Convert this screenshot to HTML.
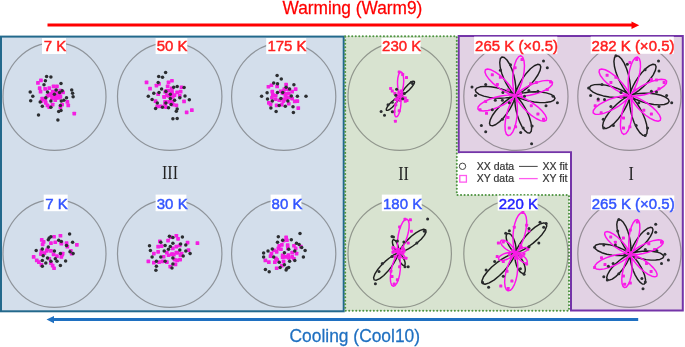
<!DOCTYPE html>
<html><head><meta charset="utf-8">
<style>
html,body{margin:0;padding:0;background:#fff;}
body{width:685px;height:347px;overflow:hidden;}
svg{display:block;will-change:transform;}
text{font-family:"Liberation Sans",sans-serif;}

</style></head><body>
<svg width="685" height="347" viewBox="0 0 685 347">
<!-- region fills -->
<rect x="1" y="36.6" width="342.7" height="274.7" fill="#d3deeb" stroke="#23698c" stroke-width="2"/>
<path d="M345.2,36.3 H456.8 V195 H569 V310.8 H345.2 Z" fill="#d8e3d0"/>
<path d="M458.7,36.1 H682.8 V310.5 H571 V152.2 H458.7 Z" fill="#e2d2e4" stroke="#7434a8" stroke-width="2"/>
<rect x="459.7" y="153.2" width="110.3" height="41" fill="#fff"/>
<path d="M345.2,36.3 H456.8 V195 H569 V310.8 H345.2 Z" fill="none" stroke="#4f9442" stroke-width="2.1" stroke-dasharray="0 3.52" stroke-linecap="round"/>

<!-- circles -->
<g fill="none" stroke="#4a4a4a" stroke-opacity="0.5" stroke-width="1.2">
<ellipse cx="54.5" cy="96.5" rx="51.5" ry="53.95"/>
<ellipse cx="169.7" cy="96.5" rx="52.2" ry="53.95"/>
<ellipse cx="283.7" cy="96.5" rx="52.1" ry="53.95"/>
<ellipse cx="399.7" cy="96.5" rx="51.7" ry="53.95"/>
<ellipse cx="515.9" cy="96.5" rx="52.1" ry="53.95"/>
<ellipse cx="629.4" cy="96.5" rx="51.6" ry="53.95"/>
<ellipse cx="54.5" cy="253.5" rx="51.5" ry="53.95"/>
<ellipse cx="169.7" cy="253.5" rx="52.2" ry="53.95"/>
<ellipse cx="283.7" cy="253.5" rx="52.1" ry="53.95"/>
<ellipse cx="399.7" cy="253.5" rx="51.7" ry="53.95"/>
<ellipse cx="515.9" cy="253.5" rx="52.1" ry="53.95"/>
<ellipse cx="629.4" cy="253.5" rx="51.6" ry="53.95"/>
</g>

<g fill="none" stroke-linejoin="round">
<path d="M400.10,96.10 L400.10,96.10 L400.10,96.10 L400.10,96.10 L400.10,96.10 L400.10,96.10 L400.10,96.10 L400.10,96.10 L400.10,96.10 L400.10,96.10 L400.10,96.10 L400.10,96.10 L400.10,96.10 L400.10,96.10 L400.10,96.10 L400.10,96.10 L400.10,96.10 L400.11,96.10 L400.13,96.09 L400.20,96.08 L400.36,96.02 L400.71,95.89 L401.36,95.59 L402.46,95.00 L404.12,93.96 L406.31,92.37 L408.86,90.19 L411.39,87.59 L413.42,84.92 L414.49,82.68 L414.34,81.35 L413.01,81.25 L410.80,82.40 L408.21,84.52 L405.70,87.14 L403.61,89.76 L402.09,92.01 L401.12,93.70 L400.57,94.82 L400.29,95.49 L400.17,95.83 L400.12,96.00 L400.10,96.06 L400.10,96.09 L400.10,96.10 L400.10,96.10 L400.10,96.10 L400.10,96.10 L400.10,96.10 L400.10,96.10 L400.10,96.10 L400.10,96.10 L400.10,96.10 L400.10,96.10 L400.10,96.10 L400.10,96.10 L400.10,96.10 L400.10,96.10 L400.10,96.10 L400.10,96.10 L400.10,96.10Z M400.10,96.10 L400.10,96.10 L400.10,96.10 L400.10,96.10 L400.10,96.10 L400.10,96.10 L400.10,96.10 L400.10,96.10 L400.10,96.10 L400.10,96.10 L400.10,96.10 L400.10,96.10 L400.10,96.10 L400.10,96.10 L400.10,96.10 L400.10,96.10 L400.10,96.10 L400.09,96.10 L400.07,96.11 L400.00,96.12 L399.85,96.17 L399.52,96.30 L398.89,96.59 L397.83,97.16 L396.24,98.15 L394.13,99.69 L391.68,101.78 L389.25,104.28 L387.30,106.84 L386.27,108.99 L386.42,110.27 L387.70,110.37 L389.81,109.27 L392.31,107.23 L394.72,104.71 L396.72,102.19 L398.18,100.03 L399.12,98.41 L399.65,97.33 L399.92,96.69 L400.04,96.36 L400.08,96.20 L400.10,96.13 L400.10,96.11 L400.10,96.10 L400.10,96.10 L400.10,96.10 L400.10,96.10 L400.10,96.10 L400.10,96.10 L400.10,96.10 L400.10,96.10 L400.10,96.10 L400.10,96.10 L400.10,96.10 L400.10,96.10 L400.10,96.10 L400.10,96.10 L400.10,96.10 L400.10,96.10 L400.10,96.10Z M515.30,95.60 L515.30,95.60 L515.30,95.60 L515.30,95.60 L515.30,95.60 L515.30,95.60 L515.30,95.60 L515.30,95.60 L515.30,95.60 L515.30,95.60 L515.30,95.60 L515.30,95.60 L515.30,95.60 L515.30,95.60 L515.31,95.59 L515.32,95.56 L515.34,95.50 L515.39,95.35 L515.47,95.04 L515.59,94.43 L515.73,93.34 L515.85,91.58 L515.86,88.94 L515.62,85.28 L514.99,80.65 L513.81,75.26 L512.01,69.58 L509.66,64.26 L506.95,60.01 L504.23,57.48 L501.88,57.07 L500.30,58.85 L499.74,62.52 L500.25,67.53 L501.71,73.17 L503.84,78.73 L506.26,83.69 L508.64,87.72 L510.72,90.73 L512.37,92.79 L513.56,94.10 L514.34,94.86 L514.82,95.26 L515.08,95.46 L515.21,95.55 L515.26,95.58 L515.29,95.59 L515.30,95.60 L515.30,95.60 L515.30,95.60 L515.30,95.60 L515.30,95.60 L515.30,95.60 L515.30,95.60 L515.30,95.60 L515.30,95.60 L515.30,95.60 L515.30,95.60 L515.30,95.60 L515.30,95.60 L515.30,95.60Z M515.30,95.60 L515.30,95.60 L515.30,95.60 L515.30,95.60 L515.30,95.60 L515.30,95.60 L515.30,95.60 L515.30,95.60 L515.30,95.60 L515.30,95.60 L515.30,95.60 L515.30,95.60 L515.30,95.60 L515.30,95.60 L515.31,95.60 L515.34,95.60 L515.40,95.58 L515.55,95.54 L515.85,95.45 L516.41,95.23 L517.37,94.78 L518.87,93.97 L521.04,92.61 L523.91,90.53 L527.37,87.61 L531.17,83.85 L534.89,79.45 L538.03,74.77 L540.11,70.36 L540.77,66.82 L539.89,64.69 L537.62,64.31 L534.32,65.75 L530.48,68.77 L526.63,72.88 L523.17,77.49 L520.37,82.04 L518.30,86.07 L516.92,89.33 L516.08,91.75 L515.63,93.40 L515.41,94.43 L515.32,95.03 L515.30,95.34 L515.29,95.50 L515.30,95.56 L515.30,95.59 L515.30,95.60 L515.30,95.60 L515.30,95.60 L515.30,95.60 L515.30,95.60 L515.30,95.60 L515.30,95.60 L515.30,95.60 L515.30,95.60 L515.30,95.60 L515.30,95.60 L515.30,95.60 L515.30,95.60 L515.30,95.60Z M515.30,95.60 L515.30,95.60 L515.30,95.60 L515.30,95.60 L515.30,95.60 L515.30,95.60 L515.30,95.60 L515.30,95.60 L515.30,95.60 L515.30,95.60 L515.30,95.60 L515.30,95.60 L515.30,95.60 L515.30,95.60 L515.31,95.61 L515.33,95.63 L515.37,95.68 L515.49,95.78 L515.74,95.97 L516.24,96.31 L517.16,96.85 L518.69,97.64 L521.06,98.66 L524.42,99.85 L528.83,101.06 L534.11,102.08 L539.89,102.65 L545.57,102.59 L550.42,101.79 L553.73,100.32 L555.00,98.38 L554.02,96.28 L550.94,94.36 L546.25,92.89 L540.64,92.04 L534.83,91.80 L529.46,92.07 L524.93,92.66 L521.43,93.37 L518.94,94.05 L517.31,94.62 L516.33,95.03 L515.79,95.30 L515.51,95.45 L515.38,95.54 L515.33,95.57 L515.31,95.59 L515.30,95.60 L515.30,95.60 L515.30,95.60 L515.30,95.60 L515.30,95.60 L515.30,95.60 L515.30,95.60 L515.30,95.60 L515.30,95.60 L515.30,95.60 L515.30,95.60 L515.30,95.60 L515.30,95.60 L515.30,95.60Z M515.30,95.60 L515.30,95.60 L515.30,95.60 L515.30,95.60 L515.30,95.60 L515.30,95.60 L515.30,95.60 L515.30,95.60 L515.30,95.60 L515.30,95.60 L515.30,95.60 L515.30,95.60 L515.30,95.60 L515.30,95.60 L515.29,95.61 L515.28,95.64 L515.26,95.70 L515.22,95.85 L515.15,96.16 L515.05,96.77 L514.95,97.84 L514.88,99.58 L514.96,102.18 L515.30,105.77 L516.07,110.31 L517.40,115.59 L519.34,121.12 L521.82,126.29 L524.62,130.39 L527.39,132.80 L529.71,133.13 L531.21,131.33 L531.65,127.69 L530.99,122.77 L529.37,117.27 L527.11,111.86 L524.57,107.05 L522.10,103.16 L519.96,100.26 L518.27,98.28 L517.06,97.02 L516.26,96.30 L515.79,95.92 L515.52,95.73 L515.39,95.65 L515.34,95.62 L515.31,95.60 L515.30,95.60 L515.30,95.60 L515.30,95.60 L515.30,95.60 L515.30,95.60 L515.30,95.60 L515.30,95.60 L515.30,95.60 L515.30,95.60 L515.30,95.60 L515.30,95.60 L515.30,95.60 L515.30,95.60 L515.30,95.60Z M515.30,95.60 L515.30,95.60 L515.30,95.60 L515.30,95.60 L515.30,95.60 L515.30,95.60 L515.30,95.60 L515.30,95.60 L515.30,95.60 L515.30,95.60 L515.30,95.60 L515.30,95.60 L515.30,95.60 L515.30,95.60 L515.29,95.60 L515.26,95.60 L515.20,95.61 L515.05,95.65 L514.76,95.74 L514.20,95.94 L513.24,96.35 L511.74,97.11 L509.57,98.40 L506.69,100.37 L503.21,103.16 L499.37,106.75 L495.60,110.99 L492.38,115.52 L490.23,119.81 L489.49,123.28 L490.30,125.40 L492.52,125.83 L495.81,124.49 L499.66,121.63 L503.56,117.68 L507.08,113.22 L509.96,108.82 L512.10,104.90 L513.54,101.73 L514.43,99.37 L514.92,97.76 L515.16,96.74 L515.26,96.16 L515.30,95.85 L515.30,95.70 L515.30,95.64 L515.30,95.61 L515.30,95.60 L515.30,95.60 L515.30,95.60 L515.30,95.60 L515.30,95.60 L515.30,95.60 L515.30,95.60 L515.30,95.60 L515.30,95.60 L515.30,95.60 L515.30,95.60 L515.30,95.60 L515.30,95.60 L515.30,95.60Z M515.30,95.60 L515.30,95.60 L515.30,95.60 L515.30,95.60 L515.30,95.60 L515.30,95.60 L515.30,95.60 L515.30,95.60 L515.30,95.60 L515.30,95.60 L515.30,95.60 L515.30,95.60 L515.30,95.60 L515.30,95.60 L515.29,95.59 L515.28,95.57 L515.23,95.52 L515.12,95.41 L514.88,95.20 L514.40,94.81 L513.51,94.20 L512.01,93.30 L509.68,92.09 L506.36,90.65 L501.99,89.11 L496.71,87.71 L490.90,86.72 L485.14,86.38 L480.18,86.84 L476.72,88.10 L475.29,89.98 L476.14,92.17 L479.13,94.34 L483.77,96.15 L489.39,97.41 L495.25,98.06 L500.72,98.17 L505.34,97.90 L508.93,97.43 L511.50,96.91 L513.19,96.45 L514.21,96.11 L514.79,95.87 L515.08,95.73 L515.21,95.66 L515.27,95.62 L515.29,95.61 L515.30,95.60 L515.30,95.60 L515.30,95.60 L515.30,95.60 L515.30,95.60 L515.30,95.60 L515.30,95.60 L515.30,95.60 L515.30,95.60 L515.30,95.60 L515.30,95.60 L515.30,95.60 L515.30,95.60 L515.30,95.60Z M629.90,95.60 L629.90,95.60 L629.90,95.60 L629.90,95.60 L629.90,95.60 L629.90,95.60 L629.90,95.60 L629.90,95.60 L629.90,95.60 L629.90,95.60 L629.90,95.60 L629.90,95.60 L629.90,95.60 L629.90,95.60 L629.91,95.59 L629.92,95.56 L629.94,95.50 L629.99,95.34 L630.08,95.02 L630.20,94.39 L630.35,93.27 L630.48,91.44 L630.50,88.71 L630.27,84.93 L629.63,80.13 L628.43,74.56 L626.59,68.68 L624.18,63.16 L621.39,58.76 L618.58,56.13 L616.16,55.70 L614.52,57.53 L613.92,61.33 L614.44,66.52 L615.93,72.35 L618.10,78.11 L620.59,83.25 L623.04,87.42 L625.18,90.54 L626.88,92.68 L628.11,94.04 L628.91,94.83 L629.40,95.25 L629.67,95.46 L629.80,95.55 L629.86,95.58 L629.89,95.59 L629.90,95.60 L629.90,95.60 L629.90,95.60 L629.90,95.60 L629.90,95.60 L629.90,95.60 L629.90,95.60 L629.90,95.60 L629.90,95.60 L629.90,95.60 L629.90,95.60 L629.90,95.60 L629.90,95.60 L629.90,95.60Z M629.90,95.60 L629.90,95.60 L629.90,95.60 L629.90,95.60 L629.90,95.60 L629.90,95.60 L629.90,95.60 L629.90,95.60 L629.90,95.60 L629.90,95.60 L629.90,95.60 L629.90,95.60 L629.90,95.60 L629.90,95.60 L629.91,95.60 L629.94,95.60 L630.00,95.58 L630.15,95.55 L630.46,95.45 L631.03,95.24 L632.01,94.80 L633.54,94.00 L635.76,92.65 L638.69,90.59 L642.24,87.68 L646.14,83.93 L649.97,79.52 L653.21,74.83 L655.37,70.39 L656.09,66.82 L655.24,64.65 L652.94,64.24 L649.58,65.65 L645.65,68.64 L641.69,72.75 L638.13,77.38 L635.23,81.94 L633.08,85.99 L631.63,89.28 L630.75,91.71 L630.26,93.38 L630.03,94.42 L629.93,95.02 L629.90,95.34 L629.90,95.49 L629.90,95.56 L629.90,95.59 L629.90,95.60 L629.90,95.60 L629.90,95.60 L629.90,95.60 L629.90,95.60 L629.90,95.60 L629.90,95.60 L629.90,95.60 L629.90,95.60 L629.90,95.60 L629.90,95.60 L629.90,95.60 L629.90,95.60 L629.90,95.60Z M629.90,95.60 L629.90,95.60 L629.90,95.60 L629.90,95.60 L629.90,95.60 L629.90,95.60 L629.90,95.60 L629.90,95.60 L629.90,95.60 L629.90,95.60 L629.90,95.60 L629.90,95.60 L629.90,95.60 L629.90,95.60 L629.91,95.61 L629.92,95.63 L629.97,95.68 L630.07,95.79 L630.31,96.00 L630.78,96.38 L631.65,96.99 L633.12,97.89 L635.39,99.09 L638.65,100.53 L642.93,102.07 L648.11,103.48 L653.82,104.50 L659.47,104.87 L664.35,104.45 L667.76,103.23 L669.17,101.40 L668.35,99.24 L665.44,97.09 L660.89,95.28 L655.37,94.00 L649.61,93.32 L644.25,93.17 L639.70,93.41 L636.17,93.85 L633.64,94.34 L631.98,94.78 L630.97,95.11 L630.41,95.33 L630.12,95.47 L629.99,95.54 L629.93,95.58 L629.91,95.59 L629.90,95.60 L629.90,95.60 L629.90,95.60 L629.90,95.60 L629.90,95.60 L629.90,95.60 L629.90,95.60 L629.90,95.60 L629.90,95.60 L629.90,95.60 L629.90,95.60 L629.90,95.60 L629.90,95.60 L629.90,95.60Z M629.90,95.60 L629.90,95.60 L629.90,95.60 L629.90,95.60 L629.90,95.60 L629.90,95.60 L629.90,95.60 L629.90,95.60 L629.90,95.60 L629.90,95.60 L629.90,95.60 L629.90,95.60 L629.90,95.60 L629.90,95.60 L629.89,95.61 L629.88,95.64 L629.86,95.71 L629.81,95.86 L629.74,96.20 L629.64,96.84 L629.52,97.98 L629.46,99.83 L629.53,102.61 L629.90,106.43 L630.72,111.27 L632.14,116.88 L634.20,122.77 L636.85,128.28 L639.82,132.64 L642.77,135.20 L645.24,135.56 L646.84,133.64 L647.31,129.77 L646.60,124.53 L644.88,118.67 L642.48,112.91 L639.77,107.79 L637.14,103.65 L634.86,100.56 L633.06,98.45 L631.77,97.12 L630.93,96.35 L630.42,95.94 L630.14,95.74 L630.00,95.65 L629.94,95.62 L629.91,95.60 L629.90,95.60 L629.90,95.60 L629.90,95.60 L629.90,95.60 L629.90,95.60 L629.90,95.60 L629.90,95.60 L629.90,95.60 L629.90,95.60 L629.90,95.60 L629.90,95.60 L629.90,95.60 L629.90,95.60 L629.90,95.60Z M629.90,95.60 L629.90,95.60 L629.90,95.60 L629.90,95.60 L629.90,95.60 L629.90,95.60 L629.90,95.60 L629.90,95.60 L629.90,95.60 L629.90,95.60 L629.90,95.60 L629.90,95.60 L629.90,95.60 L629.90,95.60 L629.89,95.60 L629.86,95.60 L629.79,95.62 L629.64,95.66 L629.32,95.76 L628.72,95.98 L627.70,96.45 L626.09,97.29 L623.78,98.72 L620.72,100.90 L617.02,103.96 L612.95,107.91 L608.97,112.55 L605.60,117.48 L603.35,122.15 L602.62,125.90 L603.53,128.16 L605.94,128.58 L609.45,127.08 L613.55,123.92 L617.67,119.60 L621.38,114.73 L624.40,109.94 L626.62,105.68 L628.12,102.23 L629.03,99.68 L629.53,97.93 L629.77,96.83 L629.87,96.20 L629.90,95.87 L629.91,95.71 L629.90,95.64 L629.90,95.61 L629.90,95.60 L629.90,95.60 L629.90,95.60 L629.90,95.60 L629.90,95.60 L629.90,95.60 L629.90,95.60 L629.90,95.60 L629.90,95.60 L629.90,95.60 L629.90,95.60 L629.90,95.60 L629.90,95.60 L629.90,95.60Z M629.90,95.60 L629.90,95.60 L629.90,95.60 L629.90,95.60 L629.90,95.60 L629.90,95.60 L629.90,95.60 L629.90,95.60 L629.90,95.60 L629.90,95.60 L629.90,95.60 L629.90,95.60 L629.90,95.60 L629.90,95.60 L629.89,95.59 L629.88,95.57 L629.83,95.51 L629.73,95.39 L629.50,95.16 L629.02,94.75 L628.15,94.07 L626.68,93.05 L624.38,91.69 L621.07,90.02 L616.70,88.19 L611.39,86.45 L605.52,85.10 L599.67,84.42 L594.57,84.60 L590.96,85.67 L589.40,87.51 L590.14,89.80 L593.06,92.18 L597.69,94.31 L603.35,95.92 L609.30,96.93 L614.87,97.37 L619.60,97.36 L623.30,97.09 L625.95,96.71 L627.70,96.35 L628.76,96.05 L629.36,95.85 L629.66,95.72 L629.81,95.66 L629.87,95.62 L629.89,95.61 L629.90,95.60 L629.90,95.60 L629.90,95.60 L629.90,95.60 L629.90,95.60 L629.90,95.60 L629.90,95.60 L629.90,95.60 L629.90,95.60 L629.90,95.60 L629.90,95.60 L629.90,95.60 L629.90,95.60 L629.90,95.60Z M398.50,252.80 L398.50,252.80 L398.50,252.80 L398.50,252.80 L398.50,252.80 L398.50,252.80 L398.50,252.80 L398.50,252.80 L398.50,252.80 L398.50,252.80 L398.50,252.80 L398.50,252.80 L398.50,252.80 L398.50,252.80 L398.50,252.80 L398.51,252.80 L398.53,252.80 L398.58,252.80 L398.72,252.78 L399.02,252.74 L399.61,252.60 L400.67,252.30 L402.41,251.68 L404.97,250.57 L408.40,248.80 L412.54,246.25 L417.00,242.97 L421.17,239.18 L424.37,235.35 L426.01,232.07 L425.77,229.92 L423.69,229.31 L420.18,230.35 L415.85,232.84 L411.40,236.29 L407.39,240.11 L404.16,243.75 L401.82,246.82 L400.28,249.15 L399.37,250.75 L398.89,251.74 L398.65,252.30 L398.55,252.59 L398.52,252.72 L398.50,252.77 L398.50,252.79 L398.50,252.80 L398.50,252.80 L398.50,252.80 L398.50,252.80 L398.50,252.80 L398.50,252.80 L398.50,252.80 L398.50,252.80 L398.50,252.80 L398.50,252.80 L398.50,252.80 L398.50,252.80 L398.50,252.80 L398.50,252.80 L398.50,252.80Z M398.50,252.80 L398.50,252.80 L398.50,252.80 L398.50,252.80 L398.50,252.80 L398.50,252.80 L398.50,252.80 L398.50,252.80 L398.50,252.80 L398.50,252.80 L398.50,252.80 L398.50,252.80 L398.50,252.80 L398.50,252.80 L398.50,252.80 L398.49,252.80 L398.47,252.80 L398.42,252.81 L398.28,252.85 L397.98,252.94 L397.40,253.16 L396.37,253.62 L394.70,254.49 L392.27,255.98 L389.05,258.26 L385.22,261.43 L381.17,265.39 L377.49,269.82 L374.79,274.15 L373.59,277.71 L374.14,279.85 L376.33,280.17 L379.75,278.61 L383.77,275.48 L387.79,271.35 L391.31,266.91 L394.06,262.77 L395.99,259.33 L397.22,256.75 L397.91,255.00 L398.26,253.93 L398.42,253.33 L398.48,253.02 L398.50,252.89 L398.50,252.83 L398.50,252.81 L398.50,252.80 L398.50,252.80 L398.50,252.80 L398.50,252.80 L398.50,252.80 L398.50,252.80 L398.50,252.80 L398.50,252.80 L398.50,252.80 L398.50,252.80 L398.50,252.80 L398.50,252.80 L398.50,252.80 L398.50,252.80 L398.50,252.80Z M398.50,252.80 L398.50,252.80 L398.50,252.80 L398.50,252.80 L398.50,252.80 L398.50,252.80 L398.50,252.80 L398.50,252.80 L398.50,252.80 L398.50,252.80 L398.50,252.80 L398.50,252.80 L398.50,252.79 L398.51,252.78 L398.52,252.75 L398.54,252.70 L398.58,252.59 L398.62,252.41 L398.67,252.10 L398.73,251.63 L398.76,250.95 L398.74,250.03 L398.64,248.85 L398.41,247.45 L398.02,245.88 L397.45,244.25 L396.72,242.68 L395.85,241.33 L394.93,240.34 L394.03,239.81 L393.26,239.82 L392.70,240.35 L392.41,241.35 L392.44,242.71 L392.75,244.28 L393.31,245.92 L394.04,247.49 L394.85,248.89 L395.66,250.06 L396.40,250.97 L397.03,251.65 L397.52,252.12 L397.89,252.42 L398.14,252.60 L398.30,252.70 L398.40,252.76 L398.45,252.78 L398.48,252.79 L398.49,252.80 L398.50,252.80 L398.50,252.80 L398.50,252.80 L398.50,252.80 L398.50,252.80 L398.50,252.80 L398.50,252.80 L398.50,252.80 L398.50,252.80 L398.50,252.80 L398.50,252.80 L398.50,252.80Z M398.50,252.80 L398.50,252.80 L398.50,252.80 L398.50,252.80 L398.50,252.80 L398.50,252.80 L398.50,252.80 L398.50,252.80 L398.50,252.80 L398.50,252.80 L398.50,252.80 L398.50,252.80 L398.50,252.81 L398.49,252.82 L398.48,252.85 L398.46,252.90 L398.44,253.01 L398.40,253.20 L398.36,253.51 L398.33,253.98 L398.34,254.66 L398.40,255.58 L398.57,256.75 L398.87,258.14 L399.35,259.68 L400.00,261.29 L400.81,262.81 L401.74,264.11 L402.72,265.06 L403.64,265.53 L404.42,265.49 L404.95,264.93 L405.18,263.91 L405.08,262.56 L404.68,261.01 L404.04,259.40 L403.23,257.87 L402.35,256.52 L401.48,255.39 L400.69,254.51 L400.03,253.87 L399.51,253.43 L399.13,253.15 L398.87,252.98 L398.70,252.89 L398.60,252.84 L398.55,252.81 L398.52,252.81 L398.51,252.80 L398.50,252.80 L398.50,252.80 L398.50,252.80 L398.50,252.80 L398.50,252.80 L398.50,252.80 L398.50,252.80 L398.50,252.80 L398.50,252.80 L398.50,252.80 L398.50,252.80 L398.50,252.80Z M515.50,252.90 L515.50,252.90 L515.50,252.90 L515.50,252.90 L515.50,252.90 L515.50,252.90 L515.50,252.90 L515.50,252.90 L515.50,252.90 L515.50,252.90 L515.50,252.90 L515.50,252.90 L515.50,252.90 L515.50,252.90 L515.51,252.90 L515.52,252.90 L515.56,252.90 L515.67,252.89 L515.90,252.85 L516.37,252.73 L517.24,252.47 L518.71,251.93 L520.97,250.93 L524.14,249.27 L528.19,246.77 L532.87,243.35 L537.72,239.13 L542.07,234.43 L545.26,229.82 L546.72,225.95 L546.17,223.48 L543.73,222.84 L539.81,224.13 L535.07,227.12 L530.19,231.28 L525.77,235.94 L522.16,240.48 L519.49,244.42 L517.70,247.52 L516.60,249.73 L516.00,251.18 L515.70,252.04 L515.57,252.51 L515.52,252.74 L515.50,252.84 L515.50,252.88 L515.50,252.89 L515.50,252.90 L515.50,252.90 L515.50,252.90 L515.50,252.90 L515.50,252.90 L515.50,252.90 L515.50,252.90 L515.50,252.90 L515.50,252.90 L515.50,252.90 L515.50,252.90 L515.50,252.90 L515.50,252.90 L515.50,252.90Z M515.50,252.90 L515.50,252.90 L515.50,252.90 L515.50,252.90 L515.50,252.90 L515.50,252.90 L515.50,252.90 L515.50,252.90 L515.50,252.90 L515.50,252.90 L515.50,252.90 L515.50,252.90 L515.50,252.90 L515.50,252.90 L515.49,252.90 L515.48,252.90 L515.43,252.90 L515.32,252.91 L515.08,252.95 L514.58,253.06 L513.65,253.32 L512.08,253.87 L509.67,254.88 L506.29,256.58 L501.96,259.16 L496.93,262.69 L491.73,267.07 L487.03,271.96 L483.57,276.79 L481.95,280.85 L482.48,283.47 L485.06,284.20 L489.23,282.90 L494.31,279.83 L499.55,275.52 L504.32,270.66 L508.22,265.92 L511.12,261.80 L513.08,258.56 L514.27,256.23 L514.94,254.72 L515.27,253.81 L515.42,253.32 L515.47,253.07 L515.49,252.97 L515.50,252.92 L515.50,252.91 L515.50,252.90 L515.50,252.90 L515.50,252.90 L515.50,252.90 L515.50,252.90 L515.50,252.90 L515.50,252.90 L515.50,252.90 L515.50,252.90 L515.50,252.90 L515.50,252.90 L515.50,252.90 L515.50,252.90 L515.50,252.90Z M515.50,252.90 L515.50,252.90 L515.50,252.90 L515.50,252.90 L515.50,252.90 L515.50,252.90 L515.50,252.90 L515.50,252.90 L515.50,252.90 L515.50,252.90 L515.50,252.90 L515.51,252.89 L515.52,252.87 L515.54,252.83 L515.57,252.75 L515.63,252.60 L515.70,252.34 L515.80,251.93 L515.90,251.30 L515.99,250.40 L516.02,249.20 L515.96,247.66 L515.75,245.81 L515.34,243.70 L514.70,241.43 L513.81,239.15 L512.70,237.04 L511.43,235.26 L510.08,234.00 L508.77,233.37 L507.63,233.43 L506.77,234.18 L506.27,235.54 L506.18,237.39 L506.49,239.54 L507.16,241.84 L508.11,244.09 L509.22,246.17 L510.40,247.97 L511.53,249.45 L512.55,250.60 L513.42,251.44 L514.10,252.03 L514.61,252.41 L514.96,252.64 L515.20,252.77 L515.34,252.84 L515.42,252.88 L515.47,252.89 L515.49,252.90 L515.49,252.90 L515.50,252.90 L515.50,252.90 L515.50,252.90 L515.50,252.90 L515.50,252.90 L515.50,252.90 L515.50,252.90 L515.50,252.90 L515.50,252.90 L515.50,252.90Z M515.50,252.90 L515.50,252.90 L515.50,252.90 L515.50,252.90 L515.50,252.90 L515.50,252.90 L515.50,252.90 L515.50,252.90 L515.50,252.90 L515.50,252.90 L515.50,252.90 L515.49,252.91 L515.48,252.93 L515.46,252.97 L515.42,253.06 L515.37,253.22 L515.29,253.49 L515.19,253.92 L515.08,254.58 L514.99,255.51 L514.96,256.78 L515.02,258.39 L515.24,260.33 L515.67,262.54 L516.34,264.92 L517.27,267.30 L518.43,269.52 L519.77,271.38 L521.18,272.70 L522.55,273.36 L523.74,273.30 L524.65,272.51 L525.17,271.09 L525.27,269.15 L524.94,266.89 L524.23,264.49 L523.24,262.13 L522.08,259.95 L520.85,258.06 L519.66,256.51 L518.59,255.31 L517.68,254.43 L516.97,253.82 L516.43,253.42 L516.06,253.17 L515.82,253.03 L515.67,252.96 L515.58,252.92 L515.54,252.91 L515.51,252.90 L515.51,252.90 L515.50,252.90 L515.50,252.90 L515.50,252.90 L515.50,252.90 L515.50,252.90 L515.50,252.90 L515.50,252.90 L515.50,252.90 L515.50,252.90 L515.50,252.90Z M630.30,254.20 L630.30,254.20 L630.30,254.20 L630.30,254.20 L630.30,254.20 L630.30,254.20 L630.30,254.20 L630.30,254.20 L630.30,254.20 L630.30,254.20 L630.30,254.20 L630.30,254.20 L630.30,254.20 L630.30,254.20 L630.31,254.19 L630.32,254.17 L630.34,254.11 L630.38,253.98 L630.46,253.70 L630.57,253.15 L630.71,252.19 L630.84,250.61 L630.88,248.25 L630.72,244.98 L630.21,240.82 L629.22,235.99 L627.68,230.88 L625.65,226.09 L623.28,222.26 L620.87,219.96 L618.78,219.57 L617.34,221.14 L616.79,224.42 L617.19,228.91 L618.43,233.96 L620.26,238.97 L622.36,243.43 L624.44,247.07 L626.27,249.78 L627.72,251.65 L628.76,252.84 L629.45,253.53 L629.87,253.89 L630.10,254.07 L630.22,254.15 L630.27,254.18 L630.29,254.20 L630.30,254.20 L630.30,254.20 L630.30,254.20 L630.30,254.20 L630.30,254.20 L630.30,254.20 L630.30,254.20 L630.30,254.20 L630.30,254.20 L630.30,254.20 L630.30,254.20 L630.30,254.20 L630.30,254.20 L630.30,254.20Z M630.30,254.20 L630.30,254.20 L630.30,254.20 L630.30,254.20 L630.30,254.20 L630.30,254.20 L630.30,254.20 L630.30,254.20 L630.30,254.20 L630.30,254.20 L630.30,254.20 L630.30,254.20 L630.30,254.20 L630.30,254.20 L630.31,254.20 L630.33,254.20 L630.39,254.19 L630.52,254.16 L630.78,254.08 L631.27,253.90 L632.12,253.52 L633.44,252.84 L635.35,251.69 L637.88,249.93 L640.95,247.44 L644.32,244.24 L647.63,240.46 L650.44,236.44 L652.32,232.64 L652.95,229.56 L652.23,227.69 L650.26,227.33 L647.36,228.53 L643.97,231.09 L640.54,234.60 L637.46,238.56 L634.94,242.48 L633.08,245.95 L631.82,248.77 L631.05,250.86 L630.62,252.29 L630.42,253.19 L630.33,253.70 L630.30,253.98 L630.30,254.11 L630.30,254.17 L630.30,254.19 L630.30,254.20 L630.30,254.20 L630.30,254.20 L630.30,254.20 L630.30,254.20 L630.30,254.20 L630.30,254.20 L630.30,254.20 L630.30,254.20 L630.30,254.20 L630.30,254.20 L630.30,254.20 L630.30,254.20 L630.30,254.20Z M630.30,254.20 L630.30,254.20 L630.30,254.20 L630.30,254.20 L630.30,254.20 L630.30,254.20 L630.30,254.20 L630.30,254.20 L630.30,254.20 L630.30,254.20 L630.30,254.20 L630.30,254.20 L630.30,254.20 L630.30,254.20 L630.31,254.21 L630.32,254.22 L630.36,254.26 L630.46,254.35 L630.67,254.51 L631.09,254.80 L631.86,255.25 L633.16,255.92 L635.15,256.78 L637.98,257.78 L641.69,258.80 L646.13,259.65 L651.00,260.14 L655.78,260.08 L659.86,259.41 L662.65,258.17 L663.72,256.54 L662.89,254.77 L660.30,253.15 L656.35,251.92 L651.62,251.20 L646.74,251.00 L642.21,251.23 L638.40,251.72 L635.46,252.32 L633.37,252.90 L632.00,253.37 L631.17,253.72 L630.71,253.94 L630.48,254.08 L630.37,254.15 L630.32,254.18 L630.31,254.19 L630.30,254.20 L630.30,254.20 L630.30,254.20 L630.30,254.20 L630.30,254.20 L630.30,254.20 L630.30,254.20 L630.30,254.20 L630.30,254.20 L630.30,254.20 L630.30,254.20 L630.30,254.20 L630.30,254.20 L630.30,254.20Z M630.30,254.20 L630.30,254.20 L630.30,254.20 L630.30,254.20 L630.30,254.20 L630.30,254.20 L630.30,254.20 L630.30,254.20 L630.30,254.20 L630.30,254.20 L630.30,254.20 L630.30,254.20 L630.30,254.20 L630.30,254.20 L630.30,254.21 L630.29,254.23 L630.27,254.28 L630.25,254.41 L630.21,254.67 L630.16,255.17 L630.14,256.05 L630.19,257.48 L630.39,259.61 L630.88,262.53 L631.77,266.21 L633.16,270.45 L635.07,274.87 L637.40,278.96 L639.93,282.16 L642.33,283.97 L644.25,284.11 L645.37,282.55 L645.53,279.54 L644.70,275.55 L643.07,271.14 L640.90,266.84 L638.55,263.05 L636.30,260.00 L634.38,257.75 L632.89,256.22 L631.82,255.27 L631.13,254.72 L630.72,254.43 L630.49,254.29 L630.38,254.23 L630.33,254.21 L630.31,254.20 L630.30,254.20 L630.30,254.20 L630.30,254.20 L630.30,254.20 L630.30,254.20 L630.30,254.20 L630.30,254.20 L630.30,254.20 L630.30,254.20 L630.30,254.20 L630.30,254.20 L630.30,254.20 L630.30,254.20 L630.30,254.20Z M630.30,254.20 L630.30,254.20 L630.30,254.20 L630.30,254.20 L630.30,254.20 L630.30,254.20 L630.30,254.20 L630.30,254.20 L630.30,254.20 L630.30,254.20 L630.30,254.20 L630.30,254.20 L630.30,254.20 L630.30,254.20 L630.29,254.20 L630.27,254.20 L630.21,254.21 L630.08,254.23 L629.82,254.30 L629.32,254.46 L628.46,254.80 L627.12,255.42 L625.16,256.49 L622.57,258.14 L619.41,260.49 L615.92,263.54 L612.46,267.16 L609.49,271.05 L607.46,274.76 L606.70,277.80 L607.35,279.69 L609.30,280.13 L612.24,279.06 L615.72,276.65 L619.28,273.29 L622.52,269.48 L625.19,265.69 L627.19,262.30 L628.56,259.55 L629.42,257.50 L629.90,256.09 L630.14,255.20 L630.25,254.69 L630.29,254.42 L630.30,254.29 L630.30,254.23 L630.30,254.21 L630.30,254.20 L630.30,254.20 L630.30,254.20 L630.30,254.20 L630.30,254.20 L630.30,254.20 L630.30,254.20 L630.30,254.20 L630.30,254.20 L630.30,254.20 L630.30,254.20 L630.30,254.20 L630.30,254.20 L630.30,254.20Z M630.30,254.20 L630.30,254.20 L630.30,254.20 L630.30,254.20 L630.30,254.20 L630.30,254.20 L630.30,254.20 L630.30,254.20 L630.30,254.20 L630.30,254.20 L630.30,254.20 L630.30,254.20 L630.30,254.20 L630.30,254.20 L630.29,254.19 L630.28,254.17 L630.24,254.12 L630.15,254.02 L629.95,253.81 L629.54,253.44 L628.77,252.82 L627.48,251.92 L625.46,250.68 L622.56,249.17 L618.71,247.51 L614.04,245.92 L608.87,244.66 L603.70,243.99 L599.20,244.09 L596.00,245.01 L594.60,246.61 L595.22,248.64 L597.78,250.78 L601.85,252.71 L606.84,254.20 L612.08,255.15 L616.99,255.60 L621.18,255.64 L624.45,255.44 L626.79,255.14 L628.35,254.84 L629.29,254.59 L629.82,254.41 L630.09,254.31 L630.22,254.25 L630.27,254.22 L630.29,254.21 L630.30,254.20 L630.30,254.20 L630.30,254.20 L630.30,254.20 L630.30,254.20 L630.30,254.20 L630.30,254.20 L630.30,254.20 L630.30,254.20 L630.30,254.20 L630.30,254.20 L630.30,254.20 L630.30,254.20 L630.30,254.20Z" stroke="#1e1e1e" stroke-width="1.45"/>
<path d="M400.10,96.10 L400.10,96.10 L400.10,96.10 L400.10,96.10 L400.10,96.10 L400.10,96.10 L400.10,96.10 L400.10,96.10 L400.10,96.10 L400.10,96.10 L400.10,96.10 L400.10,96.10 L400.10,96.10 L400.10,96.10 L400.10,96.10 L400.11,96.09 L400.12,96.07 L400.16,96.03 L400.24,95.92 L400.39,95.69 L400.64,95.23 L401.03,94.43 L401.55,93.12 L402.18,91.19 L402.84,88.56 L403.40,85.31 L403.70,81.66 L403.62,78.01 L403.08,74.86 L402.15,72.71 L400.94,71.91 L399.69,72.62 L398.60,74.71 L397.85,77.81 L397.52,81.44 L397.56,85.10 L397.89,88.39 L398.36,91.06 L398.86,93.03 L399.29,94.37 L399.62,95.20 L399.84,95.67 L399.97,95.91 L400.04,96.02 L400.08,96.07 L400.09,96.09 L400.10,96.10 L400.10,96.10 L400.10,96.10 L400.10,96.10 L400.10,96.10 L400.10,96.10 L400.10,96.10 L400.10,96.10 L400.10,96.10 L400.10,96.10 L400.10,96.10 L400.10,96.10 L400.10,96.10 L400.10,96.10 L400.10,96.10Z M400.10,96.10 L400.10,96.10 L400.10,96.10 L400.10,96.10 L400.10,96.10 L400.10,96.10 L400.10,96.10 L400.10,96.10 L400.10,96.10 L400.10,96.10 L400.10,96.10 L400.10,96.10 L400.10,96.10 L400.10,96.10 L400.10,96.10 L400.09,96.11 L400.08,96.12 L400.04,96.15 L399.95,96.24 L399.79,96.42 L399.51,96.78 L399.07,97.42 L398.44,98.48 L397.62,100.06 L396.69,102.25 L395.77,104.99 L395.01,108.10 L394.58,111.27 L394.61,114.07 L395.12,116.06 L396.05,116.91 L397.24,116.47 L398.46,114.82 L399.54,112.23 L400.33,109.14 L400.79,105.96 L400.96,103.08 L400.91,100.70 L400.75,98.93 L400.56,97.71 L400.39,96.95 L400.27,96.51 L400.18,96.28 L400.14,96.17 L400.12,96.13 L400.11,96.11 L400.10,96.10 L400.10,96.10 L400.10,96.10 L400.10,96.10 L400.10,96.10 L400.10,96.10 L400.10,96.10 L400.10,96.10 L400.10,96.10 L400.10,96.10 L400.10,96.10 L400.10,96.10 L400.10,96.10 L400.10,96.10 L400.10,96.10Z M515.30,95.60 L515.30,95.60 L515.30,95.60 L515.30,95.60 L515.30,95.60 L515.30,95.60 L515.30,95.60 L515.30,95.60 L515.30,95.60 L515.30,95.60 L515.30,95.60 L515.30,95.60 L515.30,95.60 L515.30,95.60 L515.31,95.59 L515.33,95.58 L515.38,95.53 L515.49,95.42 L515.70,95.18 L516.08,94.70 L516.69,93.82 L517.59,92.33 L518.79,90.01 L520.23,86.71 L521.76,82.36 L523.15,77.10 L524.14,71.32 L524.47,65.59 L524.01,60.65 L522.76,57.21 L520.89,55.79 L518.71,56.64 L516.56,59.60 L514.75,64.23 L513.50,69.82 L512.85,75.65 L512.74,81.09 L513.01,85.69 L513.48,89.27 L514.00,91.82 L514.45,93.50 L514.80,94.52 L515.03,95.09 L515.17,95.38 L515.24,95.51 L515.28,95.57 L515.29,95.59 L515.30,95.60 L515.30,95.60 L515.30,95.60 L515.30,95.60 L515.30,95.60 L515.30,95.60 L515.30,95.60 L515.30,95.60 L515.30,95.60 L515.30,95.60 L515.30,95.60 L515.30,95.60 L515.30,95.60 L515.30,95.60Z M515.30,95.60 L515.30,95.60 L515.30,95.60 L515.30,95.60 L515.30,95.60 L515.30,95.60 L515.30,95.60 L515.30,95.60 L515.30,95.60 L515.30,95.60 L515.30,95.60 L515.30,95.60 L515.30,95.60 L515.30,95.60 L515.31,95.61 L515.33,95.62 L515.40,95.64 L515.54,95.69 L515.85,95.76 L516.44,95.87 L517.49,96.01 L519.19,96.11 L521.75,96.11 L525.29,95.86 L529.77,95.22 L534.98,94.05 L540.47,92.29 L545.62,89.98 L549.71,87.34 L552.15,84.68 L552.53,82.41 L550.81,80.89 L547.24,80.36 L542.40,80.89 L536.95,82.33 L531.57,84.42 L526.79,86.79 L522.90,89.11 L520.00,91.14 L518.00,92.75 L516.74,93.91 L516.01,94.67 L515.62,95.13 L515.43,95.38 L515.35,95.51 L515.32,95.57 L515.30,95.59 L515.30,95.60 L515.30,95.60 L515.30,95.60 L515.30,95.60 L515.30,95.60 L515.30,95.60 L515.30,95.60 L515.30,95.60 L515.30,95.60 L515.30,95.60 L515.30,95.60 L515.30,95.60 L515.30,95.60 L515.30,95.60Z M515.30,95.60 L515.30,95.60 L515.30,95.60 L515.30,95.60 L515.30,95.60 L515.30,95.60 L515.30,95.60 L515.30,95.60 L515.30,95.60 L515.30,95.60 L515.30,95.60 L515.30,95.60 L515.30,95.60 L515.30,95.60 L515.30,95.61 L515.30,95.64 L515.32,95.70 L515.35,95.85 L515.45,96.15 L515.67,96.71 L516.11,97.68 L516.91,99.19 L518.27,101.37 L520.34,104.26 L523.25,107.75 L526.99,111.57 L531.39,115.33 L536.06,118.50 L540.48,120.60 L544.02,121.28 L546.16,120.41 L546.55,118.14 L545.12,114.82 L542.12,110.96 L538.02,107.08 L533.41,103.59 L528.87,100.75 L524.84,98.66 L521.58,97.26 L519.16,96.41 L517.50,95.94 L516.47,95.72 L515.87,95.63 L515.56,95.60 L515.40,95.59 L515.34,95.60 L515.31,95.60 L515.30,95.60 L515.30,95.60 L515.30,95.60 L515.30,95.60 L515.30,95.60 L515.30,95.60 L515.30,95.60 L515.30,95.60 L515.30,95.60 L515.30,95.60 L515.30,95.60 L515.30,95.60 L515.30,95.60 L515.30,95.60Z M515.30,95.60 L515.30,95.60 L515.30,95.60 L515.30,95.60 L515.30,95.60 L515.30,95.60 L515.30,95.60 L515.30,95.60 L515.30,95.60 L515.30,95.60 L515.30,95.60 L515.30,95.60 L515.30,95.60 L515.30,95.60 L515.29,95.61 L515.27,95.62 L515.22,95.67 L515.10,95.77 L514.88,96.01 L514.48,96.48 L513.83,97.36 L512.86,98.83 L511.57,101.13 L510.00,104.42 L508.30,108.77 L506.70,114.04 L505.50,119.86 L504.96,125.64 L505.25,130.65 L506.39,134.18 L508.23,135.68 L510.47,134.90 L512.76,131.98 L514.75,127.36 L516.21,121.75 L517.07,115.87 L517.38,110.37 L517.26,105.71 L516.91,102.07 L516.48,99.47 L516.08,97.75 L515.77,96.71 L515.56,96.13 L515.43,95.83 L515.36,95.69 L515.32,95.63 L515.31,95.61 L515.30,95.60 L515.30,95.60 L515.30,95.60 L515.30,95.60 L515.30,95.60 L515.30,95.60 L515.30,95.60 L515.30,95.60 L515.30,95.60 L515.30,95.60 L515.30,95.60 L515.30,95.60 L515.30,95.60 L515.30,95.60Z M515.30,95.60 L515.30,95.60 L515.30,95.60 L515.30,95.60 L515.30,95.60 L515.30,95.60 L515.30,95.60 L515.30,95.60 L515.30,95.60 L515.30,95.60 L515.30,95.60 L515.30,95.60 L515.30,95.60 L515.30,95.60 L515.29,95.59 L515.26,95.58 L515.20,95.56 L515.06,95.52 L514.75,95.44 L514.15,95.33 L513.09,95.20 L511.37,95.10 L508.79,95.11 L505.24,95.37 L500.72,96.03 L495.47,97.23 L489.95,99.03 L484.77,101.37 L480.66,104.05 L478.21,106.73 L477.83,109.02 L479.58,110.54 L483.17,111.06 L488.05,110.52 L493.53,109.04 L498.94,106.93 L503.76,104.52 L507.67,102.16 L510.58,100.11 L512.59,98.48 L513.85,97.31 L514.59,96.54 L514.98,96.07 L515.17,95.82 L515.25,95.69 L515.28,95.64 L515.30,95.61 L515.30,95.60 L515.30,95.60 L515.30,95.60 L515.30,95.60 L515.30,95.60 L515.30,95.60 L515.30,95.60 L515.30,95.60 L515.30,95.60 L515.30,95.60 L515.30,95.60 L515.30,95.60 L515.30,95.60 L515.30,95.60Z M515.30,95.60 L515.30,95.60 L515.30,95.60 L515.30,95.60 L515.30,95.60 L515.30,95.60 L515.30,95.60 L515.30,95.60 L515.30,95.60 L515.30,95.60 L515.30,95.60 L515.30,95.60 L515.30,95.60 L515.30,95.60 L515.30,95.59 L515.30,95.56 L515.29,95.50 L515.25,95.35 L515.17,95.05 L514.97,94.48 L514.57,93.50 L513.82,91.96 L512.54,89.74 L510.58,86.79 L507.80,83.22 L504.20,79.27 L499.95,75.38 L495.40,72.05 L491.07,69.80 L487.56,69.00 L485.40,69.79 L484.93,72.05 L486.24,75.40 L489.10,79.35 L493.05,83.37 L497.52,87.01 L501.95,89.99 L505.90,92.22 L509.10,93.73 L511.49,94.66 L513.12,95.18 L514.14,95.44 L514.73,95.55 L515.05,95.59 L515.20,95.60 L515.26,95.60 L515.29,95.60 L515.30,95.60 L515.30,95.60 L515.30,95.60 L515.30,95.60 L515.30,95.60 L515.30,95.60 L515.30,95.60 L515.30,95.60 L515.30,95.60 L515.30,95.60 L515.30,95.60 L515.30,95.60 L515.30,95.60 L515.30,95.60Z M629.90,95.60 L629.90,95.60 L629.90,95.60 L629.90,95.60 L629.90,95.60 L629.90,95.60 L629.90,95.60 L629.90,95.60 L629.90,95.60 L629.90,95.60 L629.90,95.60 L629.90,95.60 L629.90,95.60 L629.90,95.60 L629.91,95.59 L629.93,95.58 L629.98,95.54 L630.09,95.44 L630.32,95.21 L630.71,94.77 L631.36,93.93 L632.32,92.53 L633.61,90.34 L635.20,87.19 L636.93,83.03 L638.57,77.97 L639.85,72.38 L640.49,66.81 L640.31,61.96 L639.28,58.53 L637.53,57.05 L635.35,57.75 L633.09,60.53 L631.08,64.95 L629.55,70.34 L628.60,76.00 L628.19,81.30 L628.21,85.80 L628.47,89.32 L628.84,91.84 L629.19,93.50 L629.47,94.52 L629.66,95.09 L629.78,95.38 L629.85,95.51 L629.88,95.57 L629.89,95.59 L629.90,95.60 L629.90,95.60 L629.90,95.60 L629.90,95.60 L629.90,95.60 L629.90,95.60 L629.90,95.60 L629.90,95.60 L629.90,95.60 L629.90,95.60 L629.90,95.60 L629.90,95.60 L629.90,95.60 L629.90,95.60Z M629.90,95.60 L629.90,95.60 L629.90,95.60 L629.90,95.60 L629.90,95.60 L629.90,95.60 L629.90,95.60 L629.90,95.60 L629.90,95.60 L629.90,95.60 L629.90,95.60 L629.90,95.60 L629.90,95.60 L629.90,95.60 L629.90,95.59 L629.90,95.56 L629.89,95.50 L629.85,95.35 L629.76,95.04 L629.56,94.47 L629.14,93.48 L628.37,91.94 L627.06,89.71 L625.05,86.75 L622.21,83.16 L618.55,79.20 L614.22,75.31 L609.59,71.99 L605.20,69.75 L601.65,68.98 L599.47,69.79 L599.02,72.08 L600.37,75.45 L603.29,79.42 L607.32,83.44 L611.87,87.08 L616.37,90.05 L620.37,92.26 L623.62,93.76 L626.04,94.69 L627.69,95.20 L628.73,95.45 L629.33,95.56 L629.64,95.59 L629.79,95.60 L629.86,95.60 L629.89,95.60 L629.90,95.60 L629.90,95.60 L629.90,95.60 L629.90,95.60 L629.90,95.60 L629.90,95.60 L629.90,95.60 L629.90,95.60 L629.90,95.60 L629.90,95.60 L629.90,95.60 L629.90,95.60 L629.90,95.60 L629.90,95.60Z M629.90,95.60 L629.90,95.60 L629.90,95.60 L629.90,95.60 L629.90,95.60 L629.90,95.60 L629.90,95.60 L629.90,95.60 L629.90,95.60 L629.90,95.60 L629.90,95.60 L629.90,95.60 L629.90,95.60 L629.90,95.60 L629.91,95.61 L629.94,95.62 L630.00,95.64 L630.14,95.68 L630.45,95.74 L631.05,95.83 L632.10,95.93 L633.81,95.98 L636.37,95.88 L639.89,95.51 L644.35,94.72 L649.52,93.36 L654.94,91.41 L660.00,88.93 L664.00,86.14 L666.35,83.41 L666.65,81.12 L664.87,79.66 L661.29,79.26 L656.47,79.95 L651.07,81.59 L645.77,83.85 L641.07,86.39 L637.27,88.85 L634.44,90.98 L632.50,92.66 L631.28,93.86 L630.58,94.65 L630.21,95.12 L630.03,95.38 L629.95,95.51 L629.92,95.56 L629.90,95.59 L629.90,95.60 L629.90,95.60 L629.90,95.60 L629.90,95.60 L629.90,95.60 L629.90,95.60 L629.90,95.60 L629.90,95.60 L629.90,95.60 L629.90,95.60 L629.90,95.60 L629.90,95.60 L629.90,95.60 L629.90,95.60Z M629.90,95.60 L629.90,95.60 L629.90,95.60 L629.90,95.60 L629.90,95.60 L629.90,95.60 L629.90,95.60 L629.90,95.60 L629.90,95.60 L629.90,95.60 L629.90,95.60 L629.90,95.60 L629.90,95.60 L629.90,95.60 L629.90,95.61 L629.90,95.64 L629.92,95.70 L629.95,95.85 L630.04,96.15 L630.26,96.71 L630.68,97.66 L631.47,99.17 L632.80,101.34 L634.83,104.20 L637.68,107.68 L641.36,111.49 L645.69,115.24 L650.29,118.41 L654.65,120.52 L658.15,121.22 L660.28,120.38 L660.68,118.13 L659.29,114.83 L656.34,110.99 L652.31,107.12 L647.77,103.63 L643.30,100.80 L639.32,98.70 L636.10,97.28 L633.71,96.42 L632.08,95.95 L631.05,95.73 L630.46,95.63 L630.15,95.60 L630.00,95.59 L629.94,95.60 L629.91,95.60 L629.90,95.60 L629.90,95.60 L629.90,95.60 L629.90,95.60 L629.90,95.60 L629.90,95.60 L629.90,95.60 L629.90,95.60 L629.90,95.60 L629.90,95.60 L629.90,95.60 L629.90,95.60 L629.90,95.60 L629.90,95.60Z M629.90,95.60 L629.90,95.60 L629.90,95.60 L629.90,95.60 L629.90,95.60 L629.90,95.60 L629.90,95.60 L629.90,95.60 L629.90,95.60 L629.90,95.60 L629.90,95.60 L629.90,95.60 L629.90,95.60 L629.90,95.60 L629.89,95.61 L629.87,95.62 L629.82,95.67 L629.71,95.77 L629.50,96.00 L629.12,96.47 L628.51,97.32 L627.60,98.76 L626.39,101.00 L624.93,104.21 L623.36,108.44 L621.91,113.55 L620.85,119.18 L620.42,124.77 L620.79,129.61 L621.95,133.00 L623.75,134.42 L625.90,133.63 L628.06,130.76 L629.90,126.28 L631.22,120.83 L631.95,115.14 L632.15,109.83 L631.97,105.32 L631.57,101.82 L631.11,99.32 L630.69,97.67 L630.37,96.66 L630.16,96.11 L630.03,95.82 L629.96,95.69 L629.92,95.63 L629.91,95.61 L629.90,95.60 L629.90,95.60 L629.90,95.60 L629.90,95.60 L629.90,95.60 L629.90,95.60 L629.90,95.60 L629.90,95.60 L629.90,95.60 L629.90,95.60 L629.90,95.60 L629.90,95.60 L629.90,95.60 L629.90,95.60Z M629.90,95.60 L629.90,95.60 L629.90,95.60 L629.90,95.60 L629.90,95.60 L629.90,95.60 L629.90,95.60 L629.90,95.60 L629.90,95.60 L629.90,95.60 L629.90,95.60 L629.90,95.60 L629.90,95.60 L629.90,95.60 L629.89,95.59 L629.86,95.59 L629.80,95.57 L629.65,95.54 L629.32,95.49 L628.71,95.43 L627.62,95.40 L625.86,95.47 L623.25,95.73 L619.66,96.33 L615.13,97.44 L609.92,99.16 L604.48,101.52 L599.45,104.39 L595.53,107.50 L593.30,110.46 L593.13,112.82 L595.05,114.21 L598.75,114.39 L603.66,113.37 L609.08,111.34 L614.38,108.67 L619.03,105.77 L622.78,103.00 L625.54,100.63 L627.42,98.79 L628.59,97.48 L629.26,96.62 L629.62,96.11 L629.79,95.84 L629.86,95.70 L629.89,95.64 L629.90,95.61 L629.90,95.60 L629.90,95.60 L629.90,95.60 L629.90,95.60 L629.90,95.60 L629.90,95.60 L629.90,95.60 L629.90,95.60 L629.90,95.60 L629.90,95.60 L629.90,95.60 L629.90,95.60 L629.90,95.60 L629.90,95.60Z M398.50,252.80 L398.50,252.80 L398.50,252.80 L398.50,252.80 L398.50,252.80 L398.50,252.80 L398.50,252.80 L398.50,252.80 L398.50,252.80 L398.50,252.80 L398.50,252.80 L398.50,252.80 L398.50,252.80 L398.50,252.80 L398.51,252.79 L398.53,252.78 L398.58,252.75 L398.68,252.67 L398.88,252.48 L399.25,252.10 L399.86,251.39 L400.76,250.20 L402.00,248.32 L403.53,245.61 L405.24,242.01 L406.91,237.63 L408.28,232.75 L409.08,227.87 L409.13,223.59 L408.37,220.51 L406.89,219.13 L404.94,219.66 L402.83,222.01 L400.86,225.82 L399.28,230.51 L398.20,235.46 L397.61,240.11 L397.43,244.09 L397.51,247.20 L397.72,249.44 L397.96,250.92 L398.17,251.83 L398.31,252.34 L398.41,252.60 L398.46,252.72 L398.48,252.77 L398.49,252.79 L398.50,252.80 L398.50,252.80 L398.50,252.80 L398.50,252.80 L398.50,252.80 L398.50,252.80 L398.50,252.80 L398.50,252.80 L398.50,252.80 L398.50,252.80 L398.50,252.80 L398.50,252.80 L398.50,252.80 L398.50,252.80Z M398.50,252.80 L398.50,252.80 L398.50,252.80 L398.50,252.80 L398.50,252.80 L398.50,252.80 L398.50,252.80 L398.50,252.80 L398.50,252.80 L398.50,252.80 L398.50,252.80 L398.50,252.80 L398.50,252.80 L398.50,252.80 L398.49,252.81 L398.47,252.82 L398.43,252.86 L398.34,252.95 L398.15,253.15 L397.83,253.55 L397.30,254.28 L396.52,255.53 L395.47,257.46 L394.21,260.23 L392.86,263.87 L391.61,268.28 L390.69,273.14 L390.32,277.97 L390.64,282.14 L391.64,285.06 L393.20,286.28 L395.05,285.60 L396.91,283.13 L398.50,279.26 L399.64,274.56 L400.27,269.65 L400.44,265.07 L400.28,261.19 L399.94,258.17 L399.54,256.01 L399.18,254.58 L398.91,253.72 L398.72,253.24 L398.61,252.99 L398.55,252.88 L398.52,252.83 L398.51,252.81 L398.50,252.80 L398.50,252.80 L398.50,252.80 L398.50,252.80 L398.50,252.80 L398.50,252.80 L398.50,252.80 L398.50,252.80 L398.50,252.80 L398.50,252.80 L398.50,252.80 L398.50,252.80 L398.50,252.80 L398.50,252.80Z M398.50,252.80 L398.50,252.80 L398.50,252.80 L398.50,252.80 L398.50,252.80 L398.50,252.80 L398.50,252.80 L398.50,252.80 L398.50,252.80 L398.50,252.80 L398.50,252.79 L398.50,252.78 L398.50,252.76 L398.50,252.72 L398.49,252.66 L398.48,252.55 L398.44,252.39 L398.38,252.17 L398.27,251.87 L398.10,251.48 L397.85,251.02 L397.51,250.48 L397.08,249.89 L396.55,249.28 L395.93,248.69 L395.26,248.17 L394.55,247.75 L393.86,247.47 L393.24,247.35 L392.73,247.42 L392.37,247.66 L392.20,248.05 L392.22,248.57 L392.44,249.16 L392.84,249.79 L393.37,250.41 L394.01,250.99 L394.70,251.49 L395.39,251.91 L396.04,252.23 L396.63,252.47 L397.13,252.63 L397.54,252.73 L397.86,252.79 L398.09,252.81 L398.25,252.82 L398.36,252.82 L398.42,252.81 L398.46,252.81 L398.48,252.81 L398.49,252.80 L398.50,252.80 L398.50,252.80 L398.50,252.80 L398.50,252.80 L398.50,252.80 L398.50,252.80 L398.50,252.80 L398.50,252.80 L398.50,252.80 L398.50,252.80Z M398.50,252.80 L398.50,252.80 L398.50,252.80 L398.50,252.80 L398.50,252.80 L398.50,252.80 L398.50,252.80 L398.50,252.80 L398.50,252.80 L398.50,252.80 L398.50,252.81 L398.50,252.82 L398.50,252.84 L398.50,252.88 L398.51,252.94 L398.52,253.05 L398.56,253.21 L398.62,253.43 L398.73,253.73 L398.90,254.12 L399.15,254.58 L399.49,255.12 L399.92,255.71 L400.45,256.32 L401.07,256.91 L401.74,257.43 L402.45,257.85 L403.14,258.13 L403.76,258.25 L404.27,258.18 L404.63,257.94 L404.80,257.55 L404.78,257.03 L404.56,256.44 L404.16,255.81 L403.63,255.19 L402.99,254.61 L402.30,254.11 L401.61,253.69 L400.96,253.37 L400.37,253.13 L399.87,252.97 L399.46,252.87 L399.14,252.81 L398.91,252.79 L398.75,252.78 L398.64,252.78 L398.58,252.79 L398.54,252.79 L398.52,252.79 L398.51,252.80 L398.50,252.80 L398.50,252.80 L398.50,252.80 L398.50,252.80 L398.50,252.80 L398.50,252.80 L398.50,252.80 L398.50,252.80 L398.50,252.80 L398.50,252.80Z M515.50,252.90 L515.50,252.90 L515.50,252.90 L515.50,252.90 L515.50,252.90 L515.50,252.90 L515.50,252.90 L515.50,252.90 L515.50,252.90 L515.50,252.90 L515.50,252.90 L515.50,252.90 L515.51,252.90 L515.52,252.89 L515.56,252.87 L515.63,252.81 L515.78,252.68 L516.05,252.43 L516.50,251.95 L517.19,251.11 L518.17,249.77 L519.44,247.75 L520.96,244.92 L522.63,241.22 L524.26,236.70 L525.62,231.58 L526.50,226.22 L526.70,221.10 L526.13,216.79 L524.82,213.79 L522.92,212.48 L520.68,213.03 L518.39,215.37 L516.32,219.20 L514.69,224.05 L513.61,229.37 L513.06,234.65 L512.98,239.45 L513.23,243.50 L513.65,246.68 L514.12,249.02 L514.55,250.63 L514.90,251.65 L515.15,252.26 L515.31,252.60 L515.41,252.77 L515.46,252.85 L515.48,252.88 L515.49,252.89 L515.50,252.90 L515.50,252.90 L515.50,252.90 L515.50,252.90 L515.50,252.90 L515.50,252.90 L515.50,252.90 L515.50,252.90 L515.50,252.90 L515.50,252.90 L515.50,252.90 L515.50,252.90Z M515.50,252.90 L515.50,252.90 L515.50,252.90 L515.50,252.90 L515.50,252.90 L515.50,252.90 L515.50,252.90 L515.50,252.90 L515.50,252.90 L515.50,252.90 L515.50,252.90 L515.50,252.90 L515.49,252.90 L515.48,252.91 L515.45,252.93 L515.37,252.98 L515.23,253.10 L514.98,253.34 L514.55,253.79 L513.89,254.57 L512.96,255.82 L511.74,257.71 L510.28,260.36 L508.67,263.83 L507.09,268.06 L505.76,272.87 L504.88,277.92 L504.64,282.73 L505.14,286.80 L506.34,289.64 L508.12,290.89 L510.23,290.39 L512.41,288.21 L514.39,284.62 L515.97,280.07 L517.05,275.07 L517.61,270.11 L517.74,265.59 L517.55,261.77 L517.18,258.77 L516.76,256.56 L516.37,255.05 L516.05,254.08 L515.82,253.50 L515.67,253.19 L515.58,253.03 L515.54,252.95 L515.52,252.92 L515.51,252.91 L515.50,252.90 L515.50,252.90 L515.50,252.90 L515.50,252.90 L515.50,252.90 L515.50,252.90 L515.50,252.90 L515.50,252.90 L515.50,252.90 L515.50,252.90 L515.50,252.90 L515.50,252.90Z M515.50,252.90 L515.50,252.90 L515.50,252.90 L515.50,252.90 L515.50,252.90 L515.50,252.90 L515.50,252.90 L515.50,252.90 L515.50,252.90 L515.50,252.90 L515.50,252.90 L515.50,252.89 L515.50,252.87 L515.50,252.83 L515.49,252.75 L515.47,252.60 L515.42,252.37 L515.32,251.99 L515.14,251.45 L514.83,250.70 L514.34,249.72 L513.64,248.52 L512.69,247.13 L511.46,245.62 L509.99,244.08 L508.31,242.63 L506.53,241.41 L504.76,240.54 L503.14,240.10 L501.83,240.15 L500.95,240.69 L500.57,241.65 L500.75,242.95 L501.46,244.47 L502.63,246.06 L504.14,247.60 L505.85,249.00 L507.63,250.19 L509.33,251.13 L510.87,251.83 L512.17,252.31 L513.22,252.62 L514.01,252.80 L514.58,252.88 L514.96,252.92 L515.20,252.93 L515.35,252.92 L515.43,252.91 L515.47,252.91 L515.49,252.90 L515.50,252.90 L515.50,252.90 L515.50,252.90 L515.50,252.90 L515.50,252.90 L515.50,252.90 L515.50,252.90 L515.50,252.90 L515.50,252.90 L515.50,252.90 L515.50,252.90Z M515.50,252.90 L515.50,252.90 L515.50,252.90 L515.50,252.90 L515.50,252.90 L515.50,252.90 L515.50,252.90 L515.50,252.90 L515.50,252.90 L515.50,252.90 L515.50,252.90 L515.49,252.89 L515.47,252.88 L515.44,252.86 L515.37,252.83 L515.25,252.78 L515.03,252.71 L514.67,252.62 L514.14,252.51 L513.38,252.41 L512.35,252.34 L511.03,252.35 L509.43,252.48 L507.61,252.76 L505.65,253.24 L503.67,253.93 L501.83,254.82 L500.27,255.86 L499.15,256.98 L498.57,258.08 L498.59,259.06 L499.20,259.82 L500.35,260.29 L501.93,260.42 L503.79,260.22 L505.77,259.71 L507.73,258.97 L509.55,258.08 L511.13,257.12 L512.43,256.20 L513.44,255.35 L514.19,254.64 L514.71,254.07 L515.05,253.65 L515.26,253.35 L515.38,253.15 L515.45,253.03 L515.48,252.97 L515.49,252.93 L515.50,252.91 L515.50,252.90 L515.50,252.90 L515.50,252.90 L515.50,252.90 L515.50,252.90 L515.50,252.90 L515.50,252.90 L515.50,252.90 L515.50,252.90 L515.50,252.90 L515.50,252.90Z M515.50,252.90 L515.50,252.90 L515.50,252.90 L515.50,252.90 L515.50,252.90 L515.50,252.90 L515.50,252.90 L515.50,252.90 L515.50,252.90 L515.50,252.90 L515.50,252.90 L515.50,252.91 L515.50,252.93 L515.50,252.96 L515.50,253.02 L515.52,253.13 L515.56,253.32 L515.64,253.61 L515.79,254.04 L516.03,254.64 L516.41,255.41 L516.97,256.36 L517.72,257.46 L518.69,258.65 L519.85,259.87 L521.18,261.01 L522.58,261.97 L523.98,262.66 L525.26,263.00 L526.29,262.96 L526.99,262.54 L527.28,261.78 L527.14,260.75 L526.58,259.56 L525.66,258.30 L524.47,257.08 L523.12,255.98 L521.72,255.04 L520.37,254.30 L519.16,253.74 L518.13,253.36 L517.30,253.12 L516.68,252.98 L516.23,252.91 L515.93,252.89 L515.73,252.88 L515.62,252.88 L515.56,252.89 L515.52,252.89 L515.51,252.90 L515.50,252.90 L515.50,252.90 L515.50,252.90 L515.50,252.90 L515.50,252.90 L515.50,252.90 L515.50,252.90 L515.50,252.90 L515.50,252.90 L515.50,252.90 L515.50,252.90Z M515.50,252.90 L515.50,252.90 L515.50,252.90 L515.50,252.90 L515.50,252.90 L515.50,252.90 L515.50,252.90 L515.50,252.90 L515.50,252.90 L515.50,252.90 L515.50,252.90 L515.51,252.91 L515.52,252.91 L515.54,252.93 L515.59,252.95 L515.68,252.99 L515.84,253.04 L516.10,253.11 L516.48,253.18 L517.03,253.25 L517.78,253.30 L518.73,253.30 L519.88,253.21 L521.20,253.00 L522.61,252.65 L524.04,252.15 L525.38,251.51 L526.50,250.76 L527.31,249.96 L527.73,249.16 L527.72,248.45 L527.27,247.90 L526.44,247.56 L525.30,247.47 L523.96,247.62 L522.52,247.98 L521.11,248.52 L519.80,249.16 L518.66,249.85 L517.72,250.52 L516.99,251.13 L516.45,251.64 L516.07,252.05 L515.82,252.36 L515.67,252.57 L515.59,252.72 L515.54,252.80 L515.52,252.85 L515.51,252.88 L515.50,252.89 L515.50,252.90 L515.50,252.90 L515.50,252.90 L515.50,252.90 L515.50,252.90 L515.50,252.90 L515.50,252.90 L515.50,252.90 L515.50,252.90 L515.50,252.90 L515.50,252.90Z M630.30,254.20 L630.30,254.20 L630.30,254.20 L630.30,254.20 L630.30,254.20 L630.30,254.20 L630.30,254.20 L630.30,254.20 L630.30,254.20 L630.30,254.20 L630.30,254.20 L630.30,254.20 L630.30,254.20 L630.30,254.20 L630.31,254.19 L630.33,254.18 L630.37,254.14 L630.48,254.05 L630.67,253.85 L631.03,253.45 L631.61,252.71 L632.48,251.44 L633.64,249.48 L635.07,246.65 L636.63,242.92 L638.12,238.38 L639.28,233.36 L639.86,228.36 L639.71,224.00 L638.78,220.92 L637.22,219.58 L635.26,220.21 L633.22,222.71 L631.41,226.67 L630.02,231.51 L629.16,236.59 L628.79,241.35 L628.80,245.40 L629.03,248.56 L629.35,250.82 L629.66,252.32 L629.91,253.23 L630.09,253.74 L630.19,254.00 L630.25,254.12 L630.28,254.17 L630.29,254.19 L630.30,254.20 L630.30,254.20 L630.30,254.20 L630.30,254.20 L630.30,254.20 L630.30,254.20 L630.30,254.20 L630.30,254.20 L630.30,254.20 L630.30,254.20 L630.30,254.20 L630.30,254.20 L630.30,254.20 L630.30,254.20Z M630.30,254.20 L630.30,254.20 L630.30,254.20 L630.30,254.20 L630.30,254.20 L630.30,254.20 L630.30,254.20 L630.30,254.20 L630.30,254.20 L630.30,254.20 L630.30,254.20 L630.30,254.20 L630.30,254.20 L630.30,254.20 L630.30,254.19 L630.30,254.17 L630.29,254.11 L630.26,253.99 L630.19,253.73 L630.03,253.25 L629.69,252.42 L629.05,251.11 L627.98,249.22 L626.32,246.72 L623.98,243.67 L620.94,240.32 L617.34,237.00 L613.49,234.17 L609.83,232.25 L606.85,231.56 L605.02,232.22 L604.62,234.13 L605.71,236.98 L608.12,240.34 L611.47,243.76 L615.25,246.86 L619.00,249.40 L622.34,251.30 L625.05,252.59 L627.07,253.39 L628.45,253.84 L629.32,254.06 L629.82,254.16 L630.08,254.19 L630.21,254.20 L630.27,254.20 L630.29,254.20 L630.30,254.20 L630.30,254.20 L630.30,254.20 L630.30,254.20 L630.30,254.20 L630.30,254.20 L630.30,254.20 L630.30,254.20 L630.30,254.20 L630.30,254.20 L630.30,254.20 L630.30,254.20 L630.30,254.20 L630.30,254.20Z M630.30,254.20 L630.30,254.20 L630.30,254.20 L630.30,254.20 L630.30,254.20 L630.30,254.20 L630.30,254.20 L630.30,254.20 L630.30,254.20 L630.30,254.20 L630.30,254.20 L630.30,254.20 L630.30,254.20 L630.30,254.20 L630.31,254.21 L630.33,254.21 L630.39,254.23 L630.52,254.27 L630.79,254.33 L631.32,254.42 L632.26,254.51 L633.79,254.57 L636.08,254.50 L639.23,254.20 L643.22,253.52 L647.85,252.36 L652.71,250.65 L657.25,248.47 L660.85,246.01 L662.96,243.59 L663.26,241.55 L661.68,240.23 L658.48,239.84 L654.16,240.42 L649.33,241.84 L644.58,243.83 L640.36,246.06 L636.94,248.23 L634.39,250.11 L632.65,251.59 L631.55,252.66 L630.91,253.35 L630.58,253.77 L630.41,254.00 L630.34,254.12 L630.31,254.17 L630.30,254.19 L630.30,254.20 L630.30,254.20 L630.30,254.20 L630.30,254.20 L630.30,254.20 L630.30,254.20 L630.30,254.20 L630.30,254.20 L630.30,254.20 L630.30,254.20 L630.30,254.20 L630.30,254.20 L630.30,254.20 L630.30,254.20Z M630.30,254.20 L630.30,254.20 L630.30,254.20 L630.30,254.20 L630.30,254.20 L630.30,254.20 L630.30,254.20 L630.30,254.20 L630.30,254.20 L630.30,254.20 L630.30,254.20 L630.30,254.20 L630.30,254.20 L630.30,254.20 L630.30,254.21 L630.30,254.23 L630.31,254.29 L630.34,254.42 L630.42,254.68 L630.60,255.17 L630.98,256.02 L631.66,257.34 L632.81,259.25 L634.57,261.78 L637.06,264.85 L640.26,268.22 L644.04,271.53 L648.06,274.34 L651.86,276.22 L654.94,276.85 L656.81,276.13 L657.17,274.16 L655.97,271.26 L653.41,267.87 L649.90,264.44 L645.94,261.36 L642.02,258.84 L638.55,256.98 L635.73,255.72 L633.64,254.95 L632.21,254.52 L631.31,254.32 L630.80,254.23 L630.52,254.20 L630.39,254.20 L630.33,254.20 L630.31,254.20 L630.30,254.20 L630.30,254.20 L630.30,254.20 L630.30,254.20 L630.30,254.20 L630.30,254.20 L630.30,254.20 L630.30,254.20 L630.30,254.20 L630.30,254.20 L630.30,254.20 L630.30,254.20 L630.30,254.20 L630.30,254.20Z M630.30,254.20 L630.30,254.20 L630.30,254.20 L630.30,254.20 L630.30,254.20 L630.30,254.20 L630.30,254.20 L630.30,254.20 L630.30,254.20 L630.30,254.20 L630.30,254.20 L630.30,254.20 L630.30,254.20 L630.30,254.20 L630.29,254.21 L630.27,254.22 L630.23,254.26 L630.14,254.34 L629.95,254.54 L629.62,254.94 L629.08,255.67 L628.28,256.90 L627.21,258.82 L625.91,261.57 L624.50,265.19 L623.19,269.58 L622.21,274.43 L621.77,279.25 L622.03,283.43 L622.99,286.36 L624.53,287.61 L626.39,286.95 L628.29,284.51 L629.93,280.66 L631.14,275.98 L631.84,271.08 L632.07,266.50 L631.97,262.61 L631.66,259.59 L631.30,257.42 L630.96,255.99 L630.70,255.12 L630.52,254.64 L630.41,254.39 L630.35,254.28 L630.32,254.23 L630.31,254.21 L630.30,254.20 L630.30,254.20 L630.30,254.20 L630.30,254.20 L630.30,254.20 L630.30,254.20 L630.30,254.20 L630.30,254.20 L630.30,254.20 L630.30,254.20 L630.30,254.20 L630.30,254.20 L630.30,254.20 L630.30,254.20Z M630.30,254.20 L630.30,254.20 L630.30,254.20 L630.30,254.20 L630.30,254.20 L630.30,254.20 L630.30,254.20 L630.30,254.20 L630.30,254.20 L630.30,254.20 L630.30,254.20 L630.30,254.20 L630.30,254.20 L630.30,254.20 L630.29,254.19 L630.27,254.18 L630.21,254.16 L630.07,254.12 L629.77,254.05 L629.20,253.96 L628.18,253.85 L626.53,253.78 L624.07,253.83 L620.66,254.13 L616.35,254.83 L611.35,256.06 L606.08,257.86 L601.17,260.18 L597.27,262.80 L594.97,265.41 L594.64,267.61 L596.33,269.04 L599.78,269.48 L604.44,268.89 L609.67,267.40 L614.81,265.29 L619.39,262.91 L623.09,260.60 L625.85,258.58 L627.74,257.00 L628.94,255.86 L629.63,255.11 L630.00,254.66 L630.18,254.41 L630.25,254.29 L630.28,254.23 L630.30,254.21 L630.30,254.20 L630.30,254.20 L630.30,254.20 L630.30,254.20 L630.30,254.20 L630.30,254.20 L630.30,254.20 L630.30,254.20 L630.30,254.20 L630.30,254.20 L630.30,254.20 L630.30,254.20 L630.30,254.20 L630.30,254.20Z" stroke="#ff10ee" stroke-width="1.45"/>
</g>
<g fill="#f41fe2">
<rect x="36.1" y="81.1" width="3.7" height="3.7" rx="0.6"/>
<rect x="39.1" y="78.5" width="3.7" height="3.7" rx="0.6"/>
<rect x="37.8" y="86.3" width="3.7" height="3.7" rx="0.6"/>
<rect x="38.7" y="89.8" width="3.7" height="3.7" rx="0.6"/>
<rect x="47.4" y="86.3" width="3.7" height="3.7" rx="0.6"/>
<rect x="51.7" y="84.6" width="3.7" height="3.7" rx="0.6"/>
<rect x="55.1" y="84.6" width="3.7" height="3.7" rx="0.6"/>
<rect x="50.8" y="89.8" width="3.7" height="3.7" rx="0.6"/>
<rect x="57.7" y="91.5" width="3.7" height="3.7" rx="0.6"/>
<rect x="61.2" y="90.6" width="3.7" height="3.7" rx="0.6"/>
<rect x="45.6" y="94.1" width="3.7" height="3.7" rx="0.6"/>
<rect x="49.1" y="93.2" width="3.7" height="3.7" rx="0.6"/>
<rect x="55.1" y="94.1" width="3.7" height="3.7" rx="0.6"/>
<rect x="58.6" y="95.0" width="3.7" height="3.7" rx="0.6"/>
<rect x="40.4" y="96.7" width="3.7" height="3.7" rx="0.6"/>
<rect x="39.6" y="99.3" width="3.7" height="3.7" rx="0.6"/>
<rect x="43.9" y="101.0" width="3.7" height="3.7" rx="0.6"/>
<rect x="45.6" y="103.6" width="3.7" height="3.7" rx="0.6"/>
<rect x="47.4" y="105.3" width="3.7" height="3.7" rx="0.6"/>
<rect x="50.8" y="102.7" width="3.7" height="3.7" rx="0.6"/>
<rect x="53.4" y="98.4" width="3.7" height="3.7" rx="0.6"/>
<rect x="65.5" y="100.1" width="3.7" height="3.7" rx="0.6"/>
<rect x="66.4" y="103.6" width="3.7" height="3.7" rx="0.6"/>
<rect x="58.6" y="105.3" width="3.7" height="3.7" rx="0.6"/>
<rect x="60.3" y="102.7" width="3.7" height="3.7" rx="0.6"/>
<rect x="72.4" y="111.7" width="3.7" height="3.7" rx="0.6"/>
<rect x="42.2" y="97.5" width="3.7" height="3.7" rx="0.6"/>
<rect x="52.9" y="90.6" width="3.7" height="3.7" rx="0.6"/>
<rect x="55.5" y="91.3" width="3.7" height="3.7" rx="0.6"/>
<rect x="58.1" y="90.6" width="3.7" height="3.7" rx="0.6"/>
<rect x="58.8" y="88.7" width="3.7" height="3.7" rx="0.6"/>
<rect x="54.6" y="88.7" width="3.7" height="3.7" rx="0.6"/>
<rect x="51.2" y="93.2" width="3.7" height="3.7" rx="0.6"/>
<rect x="47.7" y="92.2" width="3.7" height="3.7" rx="0.6"/>
<rect x="144.7" y="80.6" width="3.7" height="3.7" rx="0.6"/>
<rect x="148.2" y="86.8" width="3.7" height="3.7" rx="0.6"/>
<rect x="154.6" y="83.7" width="3.7" height="3.7" rx="0.6"/>
<rect x="157.2" y="82.0" width="3.7" height="3.7" rx="0.6"/>
<rect x="166.7" y="80.6" width="3.7" height="3.7" rx="0.6"/>
<rect x="170.1" y="78.9" width="3.7" height="3.7" rx="0.6"/>
<rect x="165.8" y="84.6" width="3.7" height="3.7" rx="0.6"/>
<rect x="170.1" y="87.2" width="3.7" height="3.7" rx="0.6"/>
<rect x="175.3" y="90.6" width="3.7" height="3.7" rx="0.6"/>
<rect x="178.8" y="89.8" width="3.7" height="3.7" rx="0.6"/>
<rect x="179.7" y="85.4" width="3.7" height="3.7" rx="0.6"/>
<rect x="156.3" y="92.4" width="3.7" height="3.7" rx="0.6"/>
<rect x="162.4" y="95.0" width="3.7" height="3.7" rx="0.6"/>
<rect x="166.7" y="94.1" width="3.7" height="3.7" rx="0.6"/>
<rect x="172.7" y="93.2" width="3.7" height="3.7" rx="0.6"/>
<rect x="177.9" y="94.1" width="3.7" height="3.7" rx="0.6"/>
<rect x="182.2" y="99.6" width="3.7" height="3.7" rx="0.6"/>
<rect x="153.7" y="99.3" width="3.7" height="3.7" rx="0.6"/>
<rect x="155.4" y="104.5" width="3.7" height="3.7" rx="0.6"/>
<rect x="158.9" y="104.5" width="3.7" height="3.7" rx="0.6"/>
<rect x="163.2" y="100.1" width="3.7" height="3.7" rx="0.6"/>
<rect x="167.5" y="100.1" width="3.7" height="3.7" rx="0.6"/>
<rect x="171.0" y="102.7" width="3.7" height="3.7" rx="0.6"/>
<rect x="174.5" y="103.6" width="3.7" height="3.7" rx="0.6"/>
<rect x="164.1" y="105.3" width="3.7" height="3.7" rx="0.6"/>
<rect x="184.8" y="110.5" width="3.7" height="3.7" rx="0.6"/>
<rect x="190.0" y="108.3" width="3.7" height="3.7" rx="0.6"/>
<rect x="166.7" y="88.9" width="3.7" height="3.7" rx="0.6"/>
<rect x="266.6" y="84.9" width="3.7" height="3.7" rx="0.6"/>
<rect x="269.6" y="83.4" width="3.7" height="3.7" rx="0.6"/>
<rect x="275.3" y="84.6" width="3.7" height="3.7" rx="0.6"/>
<rect x="284.3" y="82.8" width="3.7" height="3.7" rx="0.6"/>
<rect x="282.5" y="87.2" width="3.7" height="3.7" rx="0.6"/>
<rect x="286.0" y="87.2" width="3.7" height="3.7" rx="0.6"/>
<rect x="293.8" y="87.2" width="3.7" height="3.7" rx="0.6"/>
<rect x="270.4" y="89.8" width="3.7" height="3.7" rx="0.6"/>
<rect x="273.9" y="93.7" width="3.7" height="3.7" rx="0.6"/>
<rect x="281.7" y="91.5" width="3.7" height="3.7" rx="0.6"/>
<rect x="286.9" y="91.5" width="3.7" height="3.7" rx="0.6"/>
<rect x="290.3" y="89.8" width="3.7" height="3.7" rx="0.6"/>
<rect x="277.4" y="98.4" width="3.7" height="3.7" rx="0.6"/>
<rect x="281.7" y="97.5" width="3.7" height="3.7" rx="0.6"/>
<rect x="285.1" y="95.8" width="3.7" height="3.7" rx="0.6"/>
<rect x="290.3" y="96.7" width="3.7" height="3.7" rx="0.6"/>
<rect x="292.9" y="99.6" width="3.7" height="3.7" rx="0.6"/>
<rect x="295.5" y="99.3" width="3.7" height="3.7" rx="0.6"/>
<rect x="267.0" y="101.0" width="3.7" height="3.7" rx="0.6"/>
<rect x="268.7" y="102.7" width="3.7" height="3.7" rx="0.6"/>
<rect x="274.8" y="103.6" width="3.7" height="3.7" rx="0.6"/>
<rect x="280.0" y="102.7" width="3.7" height="3.7" rx="0.6"/>
<rect x="286.9" y="101.9" width="3.7" height="3.7" rx="0.6"/>
<rect x="296.4" y="106.2" width="3.7" height="3.7" rx="0.6"/>
<rect x="270.1" y="95.8" width="3.7" height="3.7" rx="0.6"/>
<rect x="397.7" y="70.4" width="3.0" height="3.0" rx="0.6"/>
<rect x="401.2" y="73.0" width="3.0" height="3.0" rx="0.6"/>
<rect x="405.0" y="76.0" width="3.0" height="3.0" rx="0.6"/>
<rect x="389.1" y="86.9" width="3.0" height="3.0" rx="0.6"/>
<rect x="390.8" y="89.5" width="3.0" height="3.0" rx="0.6"/>
<rect x="393.4" y="92.0" width="3.0" height="3.0" rx="0.6"/>
<rect x="396.0" y="94.6" width="3.0" height="3.0" rx="0.6"/>
<rect x="399.5" y="93.8" width="3.0" height="3.0" rx="0.6"/>
<rect x="402.0" y="97.2" width="3.0" height="3.0" rx="0.6"/>
<rect x="403.8" y="99.8" width="3.0" height="3.0" rx="0.6"/>
<rect x="394.3" y="103.3" width="3.0" height="3.0" rx="0.6"/>
<rect x="392.5" y="110.2" width="3.0" height="3.0" rx="0.6"/>
<rect x="397.7" y="109.3" width="3.0" height="3.0" rx="0.6"/>
<rect x="393.9" y="119.7" width="3.0" height="3.0" rx="0.6"/>
<rect x="399.5" y="89.5" width="3.0" height="3.0" rx="0.6"/>
<rect x="396.0" y="97.2" width="3.0" height="3.0" rx="0.6"/>
<rect x="401.2" y="95.5" width="3.0" height="3.0" rx="0.6"/>
<rect x="398.6" y="99.0" width="3.0" height="3.0" rx="0.6"/>
<rect x="395.1" y="93.8" width="3.0" height="3.0" rx="0.6"/>
<rect x="402.0" y="92.0" width="3.0" height="3.0" rx="0.6"/>
<rect x="403.8" y="96.4" width="3.0" height="3.0" rx="0.6"/>
<rect x="397.4" y="91.2" width="3.0" height="3.0" rx="0.6"/>
<rect x="399.5" y="97.2" width="3.0" height="3.0" rx="0.6"/>
<rect x="394.3" y="98.1" width="3.0" height="3.0" rx="0.6"/>
<rect x="405.5" y="99.0" width="3.0" height="3.0" rx="0.6"/>
<rect x="520.5" y="58.1" width="3.0" height="3.0" rx="0.6"/>
<rect x="513.6" y="66.2" width="3.0" height="3.0" rx="0.6"/>
<rect x="490.8" y="73.3" width="3.0" height="3.0" rx="0.6"/>
<rect x="498.9" y="75.8" width="3.0" height="3.0" rx="0.6"/>
<rect x="495.9" y="82.9" width="3.0" height="3.0" rx="0.6"/>
<rect x="529.3" y="82.2" width="3.0" height="3.0" rx="0.6"/>
<rect x="534.9" y="80.9" width="3.0" height="3.0" rx="0.6"/>
<rect x="549.1" y="80.4" width="3.0" height="3.0" rx="0.6"/>
<rect x="545.8" y="88.0" width="3.0" height="3.0" rx="0.6"/>
<rect x="529.8" y="104.2" width="3.0" height="3.0" rx="0.6"/>
<rect x="536.4" y="112.6" width="3.0" height="3.0" rx="0.6"/>
<rect x="542.0" y="117.7" width="3.0" height="3.0" rx="0.6"/>
<rect x="506.5" y="115.9" width="3.0" height="3.0" rx="0.6"/>
<rect x="507.8" y="126.5" width="3.0" height="3.0" rx="0.6"/>
<rect x="514.1" y="125.3" width="3.0" height="3.0" rx="0.6"/>
<rect x="484.2" y="99.9" width="3.0" height="3.0" rx="0.6"/>
<rect x="478.6" y="108.3" width="3.0" height="3.0" rx="0.6"/>
<rect x="485.0" y="111.8" width="3.0" height="3.0" rx="0.6"/>
<rect x="506.5" y="88.5" width="3.0" height="3.0" rx="0.6"/>
<rect x="519.2" y="92.3" width="3.0" height="3.0" rx="0.6"/>
<rect x="635.2" y="58.1" width="3.0" height="3.0" rx="0.6"/>
<rect x="628.4" y="61.1" width="3.0" height="3.0" rx="0.6"/>
<rect x="605.6" y="73.8" width="3.0" height="3.0" rx="0.6"/>
<rect x="609.4" y="80.9" width="3.0" height="3.0" rx="0.6"/>
<rect x="614.4" y="75.8" width="3.0" height="3.0" rx="0.6"/>
<rect x="649.9" y="77.9" width="3.0" height="3.0" rx="0.6"/>
<rect x="655.0" y="78.4" width="3.0" height="3.0" rx="0.6"/>
<rect x="662.6" y="80.9" width="3.0" height="3.0" rx="0.6"/>
<rect x="657.5" y="87.2" width="3.0" height="3.0" rx="0.6"/>
<rect x="596.7" y="98.7" width="3.0" height="3.0" rx="0.6"/>
<rect x="593.7" y="104.2" width="3.0" height="3.0" rx="0.6"/>
<rect x="599.7" y="111.3" width="3.0" height="3.0" rx="0.6"/>
<rect x="642.3" y="108.8" width="3.0" height="3.0" rx="0.6"/>
<rect x="649.9" y="112.6" width="3.0" height="3.0" rx="0.6"/>
<rect x="622.0" y="116.4" width="3.0" height="3.0" rx="0.6"/>
<rect x="622.0" y="126.5" width="3.0" height="3.0" rx="0.6"/>
<rect x="628.4" y="125.3" width="3.0" height="3.0" rx="0.6"/>
<rect x="619.5" y="96.1" width="3.0" height="3.0" rx="0.6"/>
<rect x="633.5" y="88.5" width="3.0" height="3.0" rx="0.6"/>
<rect x="52.2" y="234.9" width="3.7" height="3.7" rx="0.6"/>
<rect x="58.6" y="233.9" width="3.7" height="3.7" rx="0.6"/>
<rect x="41.8" y="240.1" width="3.7" height="3.7" rx="0.6"/>
<rect x="40.8" y="242.5" width="3.7" height="3.7" rx="0.6"/>
<rect x="49.1" y="241.3" width="3.7" height="3.7" rx="0.6"/>
<rect x="53.4" y="240.4" width="3.7" height="3.7" rx="0.6"/>
<rect x="59.5" y="241.8" width="3.7" height="3.7" rx="0.6"/>
<rect x="64.7" y="241.3" width="3.7" height="3.7" rx="0.6"/>
<rect x="65.5" y="244.8" width="3.7" height="3.7" rx="0.6"/>
<rect x="75.0" y="243.0" width="3.7" height="3.7" rx="0.6"/>
<rect x="44.8" y="249.1" width="3.7" height="3.7" rx="0.6"/>
<rect x="49.1" y="249.1" width="3.7" height="3.7" rx="0.6"/>
<rect x="39.6" y="249.1" width="3.7" height="3.7" rx="0.6"/>
<rect x="39.1" y="252.2" width="3.7" height="3.7" rx="0.6"/>
<rect x="31.8" y="255.1" width="3.7" height="3.7" rx="0.6"/>
<rect x="34.9" y="258.6" width="3.7" height="3.7" rx="0.6"/>
<rect x="37.0" y="260.3" width="3.7" height="3.7" rx="0.6"/>
<rect x="39.6" y="262.9" width="3.7" height="3.7" rx="0.6"/>
<rect x="47.4" y="256.9" width="3.7" height="3.7" rx="0.6"/>
<rect x="49.1" y="261.2" width="3.7" height="3.7" rx="0.6"/>
<rect x="50.8" y="263.8" width="3.7" height="3.7" rx="0.6"/>
<rect x="52.2" y="266.4" width="3.7" height="3.7" rx="0.6"/>
<rect x="51.7" y="252.5" width="3.7" height="3.7" rx="0.6"/>
<rect x="55.1" y="254.3" width="3.7" height="3.7" rx="0.6"/>
<rect x="59.5" y="255.1" width="3.7" height="3.7" rx="0.6"/>
<rect x="60.8" y="251.7" width="3.7" height="3.7" rx="0.6"/>
<rect x="69.0" y="249.1" width="3.7" height="3.7" rx="0.6"/>
<rect x="69.8" y="251.7" width="3.7" height="3.7" rx="0.6"/>
<rect x="166.2" y="238.7" width="3.7" height="3.7" rx="0.6"/>
<rect x="168.9" y="235.3" width="3.7" height="3.7" rx="0.6"/>
<rect x="174.5" y="233.9" width="3.7" height="3.7" rx="0.6"/>
<rect x="176.2" y="237.0" width="3.7" height="3.7" rx="0.6"/>
<rect x="158.0" y="239.6" width="3.7" height="3.7" rx="0.6"/>
<rect x="156.3" y="244.8" width="3.7" height="3.7" rx="0.6"/>
<rect x="159.8" y="244.2" width="3.7" height="3.7" rx="0.6"/>
<rect x="174.5" y="244.8" width="3.7" height="3.7" rx="0.6"/>
<rect x="177.9" y="243.6" width="3.7" height="3.7" rx="0.6"/>
<rect x="185.7" y="240.8" width="3.7" height="3.7" rx="0.6"/>
<rect x="195.6" y="241.3" width="3.7" height="3.7" rx="0.6"/>
<rect x="152.0" y="251.7" width="3.7" height="3.7" rx="0.6"/>
<rect x="156.3" y="250.0" width="3.7" height="3.7" rx="0.6"/>
<rect x="165.0" y="250.8" width="3.7" height="3.7" rx="0.6"/>
<rect x="166.7" y="253.4" width="3.7" height="3.7" rx="0.6"/>
<rect x="170.1" y="252.5" width="3.7" height="3.7" rx="0.6"/>
<rect x="174.5" y="250.8" width="3.7" height="3.7" rx="0.6"/>
<rect x="179.7" y="251.7" width="3.7" height="3.7" rx="0.6"/>
<rect x="186.6" y="248.2" width="3.7" height="3.7" rx="0.6"/>
<rect x="146.5" y="259.5" width="3.7" height="3.7" rx="0.6"/>
<rect x="152.0" y="260.8" width="3.7" height="3.7" rx="0.6"/>
<rect x="157.2" y="260.3" width="3.7" height="3.7" rx="0.6"/>
<rect x="160.6" y="259.5" width="3.7" height="3.7" rx="0.6"/>
<rect x="165.0" y="260.3" width="3.7" height="3.7" rx="0.6"/>
<rect x="168.4" y="264.7" width="3.7" height="3.7" rx="0.6"/>
<rect x="173.6" y="262.6" width="3.7" height="3.7" rx="0.6"/>
<rect x="175.3" y="258.6" width="3.7" height="3.7" rx="0.6"/>
<rect x="178.3" y="257.7" width="3.7" height="3.7" rx="0.6"/>
<rect x="172.7" y="257.7" width="3.7" height="3.7" rx="0.6"/>
<rect x="284.3" y="235.6" width="3.7" height="3.7" rx="0.6"/>
<rect x="285.1" y="238.4" width="3.7" height="3.7" rx="0.6"/>
<rect x="281.7" y="238.7" width="3.7" height="3.7" rx="0.6"/>
<rect x="277.4" y="243.9" width="3.7" height="3.7" rx="0.6"/>
<rect x="280.0" y="243.0" width="3.7" height="3.7" rx="0.6"/>
<rect x="276.5" y="246.5" width="3.7" height="3.7" rx="0.6"/>
<rect x="279.1" y="247.4" width="3.7" height="3.7" rx="0.6"/>
<rect x="274.8" y="250.0" width="3.7" height="3.7" rx="0.6"/>
<rect x="286.0" y="246.5" width="3.7" height="3.7" rx="0.6"/>
<rect x="292.1" y="243.9" width="3.7" height="3.7" rx="0.6"/>
<rect x="293.8" y="246.5" width="3.7" height="3.7" rx="0.6"/>
<rect x="299.0" y="244.8" width="3.7" height="3.7" rx="0.6"/>
<rect x="290.3" y="250.8" width="3.7" height="3.7" rx="0.6"/>
<rect x="294.7" y="251.7" width="3.7" height="3.7" rx="0.6"/>
<rect x="269.6" y="251.7" width="3.7" height="3.7" rx="0.6"/>
<rect x="268.7" y="254.3" width="3.7" height="3.7" rx="0.6"/>
<rect x="280.8" y="253.4" width="3.7" height="3.7" rx="0.6"/>
<rect x="283.4" y="255.1" width="3.7" height="3.7" rx="0.6"/>
<rect x="286.9" y="256.0" width="3.7" height="3.7" rx="0.6"/>
<rect x="290.3" y="255.1" width="3.7" height="3.7" rx="0.6"/>
<rect x="263.5" y="258.6" width="3.7" height="3.7" rx="0.6"/>
<rect x="267.0" y="260.3" width="3.7" height="3.7" rx="0.6"/>
<rect x="273.0" y="260.3" width="3.7" height="3.7" rx="0.6"/>
<rect x="281.7" y="259.5" width="3.7" height="3.7" rx="0.6"/>
<rect x="280.0" y="263.8" width="3.7" height="3.7" rx="0.6"/>
<rect x="274.8" y="266.4" width="3.7" height="3.7" rx="0.6"/>
<rect x="292.1" y="256.9" width="3.7" height="3.7" rx="0.6"/>
<rect x="403.5" y="217.8" width="3.0" height="3.0" rx="0.6"/>
<rect x="408.9" y="218.3" width="3.0" height="3.0" rx="0.6"/>
<rect x="398.1" y="225.4" width="3.0" height="3.0" rx="0.6"/>
<rect x="409.9" y="229.7" width="3.0" height="3.0" rx="0.6"/>
<rect x="406.7" y="241.6" width="3.0" height="3.0" rx="0.6"/>
<rect x="401.3" y="245.9" width="3.0" height="3.0" rx="0.6"/>
<rect x="397.0" y="248.1" width="3.0" height="3.0" rx="0.6"/>
<rect x="391.6" y="245.9" width="3.0" height="3.0" rx="0.6"/>
<rect x="389.4" y="269.7" width="3.0" height="3.0" rx="0.6"/>
<rect x="390.5" y="275.1" width="3.0" height="3.0" rx="0.6"/>
<rect x="395.9" y="278.3" width="3.0" height="3.0" rx="0.6"/>
<rect x="392.7" y="282.6" width="3.0" height="3.0" rx="0.6"/>
<rect x="398.1" y="265.3" width="3.0" height="3.0" rx="0.6"/>
<rect x="404.5" y="256.7" width="3.0" height="3.0" rx="0.6"/>
<rect x="521.4" y="211.0" width="3.0" height="3.0" rx="0.6"/>
<rect x="525.1" y="223.7" width="3.0" height="3.0" rx="0.6"/>
<rect x="527.5" y="229.3" width="3.0" height="3.0" rx="0.6"/>
<rect x="512.8" y="225.7" width="3.0" height="3.0" rx="0.6"/>
<rect x="496.9" y="241.6" width="3.0" height="3.0" rx="0.6"/>
<rect x="501.8" y="240.4" width="3.0" height="3.0" rx="0.6"/>
<rect x="495.7" y="255.1" width="3.0" height="3.0" rx="0.6"/>
<rect x="501.8" y="260.0" width="3.0" height="3.0" rx="0.6"/>
<rect x="526.3" y="247.7" width="3.0" height="3.0" rx="0.6"/>
<rect x="525.1" y="262.4" width="3.0" height="3.0" rx="0.6"/>
<rect x="499.3" y="284.5" width="3.0" height="3.0" rx="0.6"/>
<rect x="506.7" y="286.9" width="3.0" height="3.0" rx="0.6"/>
<rect x="510.4" y="279.6" width="3.0" height="3.0" rx="0.6"/>
<rect x="505.5" y="269.8" width="3.0" height="3.0" rx="0.6"/>
<rect x="518.9" y="253.8" width="3.0" height="3.0" rx="0.6"/>
<rect x="635.8" y="220.4" width="3.0" height="3.0" rx="0.6"/>
<rect x="628.8" y="228.5" width="3.0" height="3.0" rx="0.6"/>
<rect x="609.2" y="235.4" width="3.0" height="3.0" rx="0.6"/>
<rect x="613.9" y="240.7" width="3.0" height="3.0" rx="0.6"/>
<rect x="621.9" y="236.6" width="3.0" height="3.0" rx="0.6"/>
<rect x="647.3" y="242.3" width="3.0" height="3.0" rx="0.6"/>
<rect x="653.1" y="248.1" width="3.0" height="3.0" rx="0.6"/>
<rect x="660.0" y="240.7" width="3.0" height="3.0" rx="0.6"/>
<rect x="600.0" y="256.2" width="3.0" height="3.0" rx="0.6"/>
<rect x="593.1" y="266.1" width="3.0" height="3.0" rx="0.6"/>
<rect x="603.5" y="263.1" width="3.0" height="3.0" rx="0.6"/>
<rect x="645.0" y="261.9" width="3.0" height="3.0" rx="0.6"/>
<rect x="649.6" y="270.0" width="3.0" height="3.0" rx="0.6"/>
<rect x="621.9" y="274.6" width="3.0" height="3.0" rx="0.6"/>
<rect x="623.1" y="282.7" width="3.0" height="3.0" rx="0.6"/>
<rect x="628.8" y="281.5" width="3.0" height="3.0" rx="0.6"/>
<rect x="625.4" y="249.2" width="3.0" height="3.0" rx="0.6"/>
<rect x="634.6" y="256.2" width="3.0" height="3.0" rx="0.6"/>
<rect x="50.2" y="96.3" width="3.7" height="3.7" rx="0.6"/>
<rect x="50.4" y="92.9" width="3.7" height="3.7" rx="0.6"/>
<rect x="47.0" y="93.3" width="3.7" height="3.7" rx="0.6"/>
<rect x="56.8" y="96.0" width="3.7" height="3.7" rx="0.6"/>
<rect x="56.4" y="95.2" width="3.7" height="3.7" rx="0.6"/>
<rect x="53.4" y="95.0" width="3.7" height="3.7" rx="0.6"/>
<rect x="43.4" y="97.7" width="3.7" height="3.7" rx="0.6"/>
<rect x="53.9" y="96.3" width="3.7" height="3.7" rx="0.6"/>
<rect x="43.3" y="87.0" width="3.7" height="3.7" rx="0.6"/>
<rect x="47.2" y="92.3" width="3.7" height="3.7" rx="0.6"/>
<rect x="169.0" y="93.6" width="3.7" height="3.7" rx="0.6"/>
<rect x="170.2" y="90.6" width="3.7" height="3.7" rx="0.6"/>
<rect x="169.0" y="95.8" width="3.7" height="3.7" rx="0.6"/>
<rect x="163.2" y="102.3" width="3.7" height="3.7" rx="0.6"/>
<rect x="170.5" y="99.7" width="3.7" height="3.7" rx="0.6"/>
<rect x="163.4" y="90.1" width="3.7" height="3.7" rx="0.6"/>
<rect x="165.1" y="93.3" width="3.7" height="3.7" rx="0.6"/>
<rect x="170.9" y="95.0" width="3.7" height="3.7" rx="0.6"/>
<rect x="164.4" y="89.0" width="3.7" height="3.7" rx="0.6"/>
<rect x="164.0" y="99.9" width="3.7" height="3.7" rx="0.6"/>
<rect x="162.3" y="95.0" width="3.7" height="3.7" rx="0.6"/>
<rect x="169.7" y="86.4" width="3.7" height="3.7" rx="0.6"/>
<rect x="281.4" y="99.2" width="3.7" height="3.7" rx="0.6"/>
<rect x="271.0" y="93.0" width="3.7" height="3.7" rx="0.6"/>
<rect x="280.6" y="91.1" width="3.7" height="3.7" rx="0.6"/>
<rect x="283.6" y="94.0" width="3.7" height="3.7" rx="0.6"/>
<rect x="273.7" y="97.4" width="3.7" height="3.7" rx="0.6"/>
<rect x="284.5" y="97.8" width="3.7" height="3.7" rx="0.6"/>
<rect x="288.4" y="95.6" width="3.7" height="3.7" rx="0.6"/>
<rect x="281.7" y="89.2" width="3.7" height="3.7" rx="0.6"/>
<rect x="284.2" y="91.9" width="3.7" height="3.7" rx="0.6"/>
<rect x="278.8" y="89.4" width="3.7" height="3.7" rx="0.6"/>
<rect x="45.6" y="247.6" width="3.7" height="3.7" rx="0.6"/>
<rect x="59.4" y="240.4" width="3.7" height="3.7" rx="0.6"/>
<rect x="42.6" y="251.3" width="3.7" height="3.7" rx="0.6"/>
<rect x="60.3" y="252.9" width="3.7" height="3.7" rx="0.6"/>
<rect x="39.9" y="238.1" width="3.7" height="3.7" rx="0.6"/>
<rect x="171.0" y="246.6" width="3.7" height="3.7" rx="0.6"/>
<rect x="161.8" y="254.9" width="3.7" height="3.7" rx="0.6"/>
<rect x="175.6" y="250.9" width="3.7" height="3.7" rx="0.6"/>
<rect x="170.3" y="252.3" width="3.7" height="3.7" rx="0.6"/>
<rect x="178.6" y="253.2" width="3.7" height="3.7" rx="0.6"/>
<rect x="172.0" y="252.8" width="3.7" height="3.7" rx="0.6"/>
<rect x="274.0" y="256.6" width="3.7" height="3.7" rx="0.6"/>
<rect x="286.4" y="253.3" width="3.7" height="3.7" rx="0.6"/>
<rect x="272.1" y="248.4" width="3.7" height="3.7" rx="0.6"/>
<rect x="285.8" y="243.3" width="3.7" height="3.7" rx="0.6"/>
<rect x="280.8" y="255.4" width="3.7" height="3.7" rx="0.6"/>
<rect x="275.3" y="258.0" width="3.7" height="3.7" rx="0.6"/>
<rect x="399.6" y="250.6" width="3.0" height="3.0" rx="0.6"/>
<rect x="398.5" y="254.3" width="3.0" height="3.0" rx="0.6"/>
<rect x="397.5" y="256.1" width="3.0" height="3.0" rx="0.6"/>
<rect x="394.0" y="249.4" width="3.0" height="3.0" rx="0.6"/>
<rect x="401.5" y="251.4" width="3.0" height="3.0" rx="0.6"/>
<rect x="393.4" y="255.2" width="3.0" height="3.0" rx="0.6"/>
<rect x="402.6" y="249.6" width="3.0" height="3.0" rx="0.6"/>
<rect x="391.5" y="250.8" width="3.0" height="3.0" rx="0.6"/>
<rect x="396.3" y="249.8" width="3.0" height="3.0" rx="0.6"/>
<rect x="402.0" y="247.7" width="3.0" height="3.0" rx="0.6"/>
<rect x="519.7" y="245.7" width="3.0" height="3.0" rx="0.6"/>
<rect x="509.6" y="255.0" width="3.0" height="3.0" rx="0.6"/>
<rect x="519.7" y="255.7" width="3.0" height="3.0" rx="0.6"/>
<rect x="516.2" y="252.3" width="3.0" height="3.0" rx="0.6"/>
<rect x="514.9" y="254.9" width="3.0" height="3.0" rx="0.6"/>
<rect x="512.9" y="253.1" width="3.0" height="3.0" rx="0.6"/>
<rect x="517.5" y="251.4" width="3.0" height="3.0" rx="0.6"/>
<rect x="518.4" y="254.6" width="3.0" height="3.0" rx="0.6"/>
<rect x="522.3" y="252.7" width="3.0" height="3.0" rx="0.6"/>
<rect x="511.4" y="249.1" width="3.0" height="3.0" rx="0.6"/>
<rect x="513.9" y="256.7" width="3.0" height="3.0" rx="0.6"/>
<rect x="511.9" y="253.8" width="3.0" height="3.0" rx="0.6"/>
<rect x="519.2" y="244.1" width="3.0" height="3.0" rx="0.6"/>
<rect x="507.9" y="252.7" width="3.0" height="3.0" rx="0.6"/>
<rect x="629.9" y="253.4" width="3.0" height="3.0" rx="0.6"/>
<rect x="627.7" y="254.4" width="3.0" height="3.0" rx="0.6"/>
<rect x="629.6" y="251.3" width="3.0" height="3.0" rx="0.6"/>
<rect x="632.7" y="253.3" width="3.0" height="3.0" rx="0.6"/>
<rect x="512.3" y="93.8" width="3.0" height="3.0" rx="0.6"/>
<rect x="513.2" y="93.9" width="3.0" height="3.0" rx="0.6"/>
<rect x="509.9" y="93.4" width="3.0" height="3.0" rx="0.6"/>
<rect x="516.0" y="91.6" width="3.0" height="3.0" rx="0.6"/>
<rect x="628.2" y="96.5" width="3.0" height="3.0" rx="0.6"/>
<rect x="630.2" y="97.1" width="3.0" height="3.0" rx="0.6"/>
<rect x="624.9" y="93.4" width="3.0" height="3.0" rx="0.6"/>
<rect x="627.5" y="95.8" width="3.0" height="3.0" rx="0.6"/>
</g>
<g fill="#2b2d30">
<circle cx="46.6" cy="76.6" r="1.75"/>
<circle cx="50.9" cy="76.9" r="1.75"/>
<circle cx="45.4" cy="80.7" r="1.75"/>
<circle cx="44.0" cy="84.7" r="1.75"/>
<circle cx="61.0" cy="83.5" r="1.75"/>
<circle cx="30.2" cy="92.1" r="1.75"/>
<circle cx="32.8" cy="96.3" r="1.75"/>
<circle cx="30.7" cy="100.8" r="1.75"/>
<circle cx="47.5" cy="92.1" r="1.75"/>
<circle cx="56.1" cy="89.9" r="1.75"/>
<circle cx="62.2" cy="90.8" r="1.75"/>
<circle cx="71.7" cy="89.9" r="1.75"/>
<circle cx="72.6" cy="93.3" r="1.75"/>
<circle cx="73.1" cy="96.8" r="1.75"/>
<circle cx="66.5" cy="97.7" r="1.75"/>
<circle cx="63.9" cy="100.3" r="1.75"/>
<circle cx="50.9" cy="101.1" r="1.75"/>
<circle cx="40.2" cy="102.0" r="1.75"/>
<circle cx="42.3" cy="106.3" r="1.75"/>
<circle cx="50.9" cy="107.2" r="1.75"/>
<circle cx="61.3" cy="101.1" r="1.75"/>
<circle cx="60.4" cy="105.4" r="1.75"/>
<circle cx="58.7" cy="111.5" r="1.75"/>
<circle cx="61.0" cy="110.6" r="1.75"/>
<circle cx="38.5" cy="115.0" r="1.75"/>
<circle cx="57.9" cy="120.1" r="1.75"/>
<circle cx="45.8" cy="97.7" r="1.75"/>
<circle cx="54.4" cy="94.2" r="1.75"/>
<circle cx="59.6" cy="92.5" r="1.75"/>
<circle cx="165.6" cy="72.6" r="1.75"/>
<circle cx="158.7" cy="76.6" r="1.75"/>
<circle cx="162.5" cy="77.3" r="1.75"/>
<circle cx="158.2" cy="82.5" r="1.75"/>
<circle cx="161.6" cy="89.0" r="1.75"/>
<circle cx="153.8" cy="93.3" r="1.75"/>
<circle cx="148.3" cy="96.3" r="1.75"/>
<circle cx="152.1" cy="99.4" r="1.75"/>
<circle cx="159.0" cy="92.5" r="1.75"/>
<circle cx="165.9" cy="91.6" r="1.75"/>
<circle cx="170.3" cy="94.2" r="1.75"/>
<circle cx="173.7" cy="87.3" r="1.75"/>
<circle cx="177.2" cy="86.4" r="1.75"/>
<circle cx="184.1" cy="87.6" r="1.75"/>
<circle cx="185.0" cy="95.9" r="1.75"/>
<circle cx="189.3" cy="99.7" r="1.75"/>
<circle cx="179.8" cy="97.7" r="1.75"/>
<circle cx="174.6" cy="100.3" r="1.75"/>
<circle cx="171.1" cy="104.6" r="1.75"/>
<circle cx="165.9" cy="102.9" r="1.75"/>
<circle cx="162.5" cy="107.2" r="1.75"/>
<circle cx="155.6" cy="108.4" r="1.75"/>
<circle cx="168.5" cy="107.7" r="1.75"/>
<circle cx="177.2" cy="108.9" r="1.75"/>
<circle cx="176.3" cy="111.2" r="1.75"/>
<circle cx="172.9" cy="118.8" r="1.75"/>
<circle cx="177.2" cy="118.4" r="1.75"/>
<circle cx="157.3" cy="102.9" r="1.75"/>
<circle cx="170.3" cy="98.5" r="1.75"/>
<circle cx="277.1" cy="75.5" r="1.75"/>
<circle cx="281.3" cy="79.0" r="1.75"/>
<circle cx="273.7" cy="83.0" r="1.75"/>
<circle cx="277.5" cy="83.8" r="1.75"/>
<circle cx="293.9" cy="84.7" r="1.75"/>
<circle cx="267.1" cy="92.8" r="1.75"/>
<circle cx="261.6" cy="96.3" r="1.75"/>
<circle cx="267.5" cy="99.1" r="1.75"/>
<circle cx="272.3" cy="101.1" r="1.75"/>
<circle cx="277.5" cy="92.5" r="1.75"/>
<circle cx="282.7" cy="92.5" r="1.75"/>
<circle cx="289.6" cy="89.0" r="1.75"/>
<circle cx="291.3" cy="95.9" r="1.75"/>
<circle cx="297.4" cy="96.3" r="1.75"/>
<circle cx="306.0" cy="96.3" r="1.75"/>
<circle cx="293.0" cy="106.7" r="1.75"/>
<circle cx="293.4" cy="112.4" r="1.75"/>
<circle cx="276.1" cy="111.5" r="1.75"/>
<circle cx="270.9" cy="108.0" r="1.75"/>
<circle cx="285.3" cy="106.3" r="1.75"/>
<circle cx="279.2" cy="105.4" r="1.75"/>
<circle cx="287.9" cy="101.1" r="1.75"/>
<circle cx="280.9" cy="98.5" r="1.75"/>
<circle cx="286.1" cy="87.3" r="1.75"/>
<circle cx="411.3" cy="82.3" r="1.5"/>
<circle cx="412.7" cy="83.7" r="1.5"/>
<circle cx="396.6" cy="89.2" r="1.5"/>
<circle cx="395.8" cy="95.3" r="1.5"/>
<circle cx="392.3" cy="102.2" r="1.5"/>
<circle cx="388.0" cy="104.8" r="1.5"/>
<circle cx="381.1" cy="111.4" r="1.5"/>
<circle cx="384.5" cy="115.2" r="1.5"/>
<circle cx="392.3" cy="111.7" r="1.5"/>
<circle cx="404.4" cy="93.5" r="1.5"/>
<circle cx="402.7" cy="98.7" r="1.5"/>
<circle cx="543.5" cy="60.9" r="1.5"/>
<circle cx="547.3" cy="67.7" r="1.5"/>
<circle cx="500.4" cy="70.2" r="1.5"/>
<circle cx="510.5" cy="64.7" r="1.5"/>
<circle cx="472.0" cy="87.0" r="1.5"/>
<circle cx="475.6" cy="95.6" r="1.5"/>
<circle cx="485.7" cy="84.4" r="1.5"/>
<circle cx="495.3" cy="100.2" r="1.5"/>
<circle cx="502.4" cy="100.2" r="1.5"/>
<circle cx="528.8" cy="90.5" r="1.5"/>
<circle cx="537.9" cy="91.3" r="1.5"/>
<circle cx="546.0" cy="105.7" r="1.5"/>
<circle cx="553.1" cy="96.3" r="1.5"/>
<circle cx="557.4" cy="102.7" r="1.5"/>
<circle cx="481.4" cy="125.5" r="1.5"/>
<circle cx="485.7" cy="131.8" r="1.5"/>
<circle cx="502.4" cy="119.2" r="1.5"/>
<circle cx="523.2" cy="128.0" r="1.5"/>
<circle cx="532.1" cy="126.0" r="1.5"/>
<circle cx="520.7" cy="132.6" r="1.5"/>
<circle cx="492.3" cy="109.8" r="1.5"/>
<circle cx="509.3" cy="102.7" r="1.5"/>
<circle cx="502.9" cy="92.5" r="1.5"/>
<circle cx="524.5" cy="96.3" r="1.5"/>
<circle cx="531.6" cy="143.7" r="1.5"/>
<circle cx="615.9" cy="55.8" r="1.5"/>
<circle cx="627.3" cy="64.2" r="1.5"/>
<circle cx="658.5" cy="60.9" r="1.5"/>
<circle cx="659.0" cy="71.0" r="1.5"/>
<circle cx="645.1" cy="69.7" r="1.5"/>
<circle cx="602.0" cy="84.4" r="1.5"/>
<circle cx="588.6" cy="88.0" r="1.5"/>
<circle cx="590.6" cy="95.6" r="1.5"/>
<circle cx="604.5" cy="99.6" r="1.5"/>
<circle cx="610.9" cy="106.5" r="1.5"/>
<circle cx="598.2" cy="98.9" r="1.5"/>
<circle cx="651.4" cy="91.3" r="1.5"/>
<circle cx="656.5" cy="92.0" r="1.5"/>
<circle cx="666.6" cy="95.6" r="1.5"/>
<circle cx="671.7" cy="102.7" r="1.5"/>
<circle cx="659.0" cy="106.5" r="1.5"/>
<circle cx="603.3" cy="119.2" r="1.5"/>
<circle cx="603.8" cy="128.0" r="1.5"/>
<circle cx="613.4" cy="125.5" r="1.5"/>
<circle cx="636.2" cy="125.5" r="1.5"/>
<circle cx="645.1" cy="135.6" r="1.5"/>
<circle cx="647.6" cy="128.0" r="1.5"/>
<circle cx="621.0" cy="92.5" r="1.5"/>
<circle cx="638.8" cy="102.7" r="1.5"/>
<circle cx="69.6" cy="234.0" r="1.75"/>
<circle cx="49.2" cy="238.0" r="1.75"/>
<circle cx="50.9" cy="236.8" r="1.75"/>
<circle cx="48.3" cy="239.7" r="1.75"/>
<circle cx="58.7" cy="240.2" r="1.75"/>
<circle cx="61.3" cy="241.4" r="1.75"/>
<circle cx="72.6" cy="242.3" r="1.75"/>
<circle cx="66.5" cy="245.4" r="1.75"/>
<circle cx="48.3" cy="247.1" r="1.75"/>
<circle cx="36.2" cy="250.6" r="1.75"/>
<circle cx="42.3" cy="248.9" r="1.75"/>
<circle cx="54.4" cy="250.9" r="1.75"/>
<circle cx="70.0" cy="251.8" r="1.75"/>
<circle cx="73.1" cy="253.5" r="1.75"/>
<circle cx="43.2" cy="255.8" r="1.75"/>
<circle cx="42.3" cy="260.4" r="1.75"/>
<circle cx="45.8" cy="263.0" r="1.75"/>
<circle cx="50.9" cy="261.3" r="1.75"/>
<circle cx="55.3" cy="258.7" r="1.75"/>
<circle cx="57.0" cy="261.3" r="1.75"/>
<circle cx="65.6" cy="261.0" r="1.75"/>
<circle cx="60.4" cy="265.6" r="1.75"/>
<circle cx="42.3" cy="266.2" r="1.75"/>
<circle cx="47.5" cy="257.9" r="1.75"/>
<circle cx="60.4" cy="253.5" r="1.75"/>
<circle cx="169.4" cy="236.2" r="1.75"/>
<circle cx="172.9" cy="237.5" r="1.75"/>
<circle cx="182.4" cy="237.1" r="1.75"/>
<circle cx="160.8" cy="242.3" r="1.75"/>
<circle cx="172.9" cy="243.2" r="1.75"/>
<circle cx="149.5" cy="245.8" r="1.75"/>
<circle cx="150.4" cy="250.6" r="1.75"/>
<circle cx="165.1" cy="245.4" r="1.75"/>
<circle cx="170.3" cy="246.6" r="1.75"/>
<circle cx="180.6" cy="244.0" r="1.75"/>
<circle cx="185.8" cy="244.9" r="1.75"/>
<circle cx="164.2" cy="250.9" r="1.75"/>
<circle cx="168.5" cy="249.2" r="1.75"/>
<circle cx="179.8" cy="250.1" r="1.75"/>
<circle cx="185.8" cy="250.9" r="1.75"/>
<circle cx="190.1" cy="253.5" r="1.75"/>
<circle cx="160.8" cy="257.0" r="1.75"/>
<circle cx="152.1" cy="257.0" r="1.75"/>
<circle cx="156.4" cy="261.3" r="1.75"/>
<circle cx="165.1" cy="261.3" r="1.75"/>
<circle cx="172.9" cy="257.9" r="1.75"/>
<circle cx="172.9" cy="263.9" r="1.75"/>
<circle cx="183.2" cy="256.1" r="1.75"/>
<circle cx="156.4" cy="266.2" r="1.75"/>
<circle cx="155.9" cy="270.3" r="1.75"/>
<circle cx="172.0" cy="267.9" r="1.75"/>
<circle cx="300.0" cy="233.6" r="1.75"/>
<circle cx="278.3" cy="236.8" r="1.75"/>
<circle cx="282.7" cy="240.2" r="1.75"/>
<circle cx="277.5" cy="242.3" r="1.75"/>
<circle cx="291.3" cy="239.7" r="1.75"/>
<circle cx="296.5" cy="243.2" r="1.75"/>
<circle cx="299.1" cy="244.4" r="1.75"/>
<circle cx="301.7" cy="247.5" r="1.75"/>
<circle cx="305.1" cy="250.6" r="1.75"/>
<circle cx="272.3" cy="248.9" r="1.75"/>
<circle cx="268.0" cy="250.9" r="1.75"/>
<circle cx="263.6" cy="253.0" r="1.75"/>
<circle cx="263.6" cy="257.0" r="1.75"/>
<circle cx="273.7" cy="257.0" r="1.75"/>
<circle cx="284.4" cy="252.7" r="1.75"/>
<circle cx="288.7" cy="249.2" r="1.75"/>
<circle cx="294.8" cy="250.9" r="1.75"/>
<circle cx="303.4" cy="257.0" r="1.75"/>
<circle cx="279.2" cy="262.2" r="1.75"/>
<circle cx="284.4" cy="264.8" r="1.75"/>
<circle cx="289.6" cy="261.3" r="1.75"/>
<circle cx="294.8" cy="260.4" r="1.75"/>
<circle cx="280.1" cy="267.4" r="1.75"/>
<circle cx="287.0" cy="268.2" r="1.75"/>
<circle cx="288.7" cy="267.4" r="1.75"/>
<circle cx="265.4" cy="269.6" r="1.75"/>
<circle cx="269.2" cy="271.7" r="1.75"/>
<circle cx="286.1" cy="270.0" r="1.75"/>
<circle cx="427.6" cy="218.9" r="1.5"/>
<circle cx="375.4" cy="283.7" r="1.5"/>
<circle cx="379.0" cy="271.6" r="1.5"/>
<circle cx="382.3" cy="263.6" r="1.5"/>
<circle cx="392.0" cy="256.5" r="1.5"/>
<circle cx="403.9" cy="242.0" r="1.5"/>
<circle cx="416.8" cy="243.1" r="1.5"/>
<circle cx="424.4" cy="231.2" r="1.5"/>
<circle cx="405.0" cy="266.8" r="1.5"/>
<circle cx="408.2" cy="266.8" r="1.5"/>
<circle cx="392.0" cy="236.6" r="1.5"/>
<circle cx="393.5" cy="237.0" r="1.5"/>
<circle cx="397.4" cy="240.9" r="1.5"/>
<circle cx="546.2" cy="223.5" r="1.5"/>
<circle cx="540.0" cy="222.3" r="1.5"/>
<circle cx="529.0" cy="228.4" r="1.5"/>
<circle cx="505.7" cy="233.3" r="1.5"/>
<circle cx="509.4" cy="230.8" r="1.5"/>
<circle cx="494.7" cy="261.5" r="1.5"/>
<circle cx="486.1" cy="270.0" r="1.5"/>
<circle cx="482.5" cy="282.3" r="1.5"/>
<circle cx="488.6" cy="287.2" r="1.5"/>
<circle cx="503.3" cy="276.2" r="1.5"/>
<circle cx="520.4" cy="268.8" r="1.5"/>
<circle cx="524.1" cy="274.2" r="1.5"/>
<circle cx="543.7" cy="227.2" r="1.5"/>
<circle cx="538.8" cy="243.1" r="1.5"/>
<circle cx="529.0" cy="246.8" r="1.5"/>
<circle cx="618.8" cy="219.6" r="1.5"/>
<circle cx="655.7" cy="224.2" r="1.5"/>
<circle cx="655.7" cy="232.3" r="1.5"/>
<circle cx="648.1" cy="233.4" r="1.5"/>
<circle cx="617.7" cy="231.1" r="1.5"/>
<circle cx="594.6" cy="247.3" r="1.5"/>
<circle cx="603.8" cy="245.0" r="1.5"/>
<circle cx="615.4" cy="245.0" r="1.5"/>
<circle cx="645.3" cy="249.6" r="1.5"/>
<circle cx="656.9" cy="250.7" r="1.5"/>
<circle cx="664.9" cy="254.2" r="1.5"/>
<circle cx="668.4" cy="260.0" r="1.5"/>
<circle cx="661.5" cy="263.4" r="1.5"/>
<circle cx="613.1" cy="263.4" r="1.5"/>
<circle cx="608.4" cy="266.2" r="1.5"/>
<circle cx="603.8" cy="276.8" r="1.5"/>
<circle cx="607.3" cy="280.0" r="1.5"/>
<circle cx="618.8" cy="273.8" r="1.5"/>
<circle cx="645.3" cy="281.9" r="1.5"/>
<circle cx="643.0" cy="288.8" r="1.5"/>
<circle cx="641.9" cy="278.4" r="1.5"/>
<circle cx="624.6" cy="255.3" r="1.5"/>
</g>

<!-- arrows -->
<line x1="47.5" y1="25.1" x2="632" y2="25.1" stroke="#ff0000" stroke-width="3"/>
<polygon points="631.5,21.5 639.2,25.2 631.5,29" fill="#ff0000"/>
<line x1="53" y1="319.6" x2="638.2" y2="319.6" stroke="#1f70c1" stroke-width="3"/>
<polygon points="54,316 46.5,319.6 54,323.2" fill="#1f70c1"/>
<text transform="translate(352.4,14.4) scale(1,1.05)" font-size="17.3" fill="#ff0000" stroke="#ff0000" stroke-width="0.25" text-anchor="middle">Warming (Warm9)</text>
<text transform="translate(354.8,341.6) scale(1,1.05)" font-size="17.4" fill="#1f70c1" stroke="#1f70c1" stroke-width="0.25" text-anchor="middle">Cooling (Cool10)</text>
<text transform="translate(170,178.6) scale(1,1.12)" font-size="16" fill="#222" text-anchor="middle" style="font-family:'Liberation Serif',serif">III</text>
<text transform="translate(403.5,180.0) scale(1,1.12)" font-size="16" fill="#222" text-anchor="middle" style="font-family:'Liberation Serif',serif">II</text>
<text transform="translate(631.2,180.0) scale(1,1.12)" font-size="16" fill="#222" text-anchor="middle" style="font-family:'Liberation Serif',serif">I</text>
<rect x="42" y="38" width="24" height="16" fill="#fff"/>
<text transform="translate(54.9,51.2) scale(1,1.02)" font-size="15" fill="#ff2020" stroke="#ff2020" stroke-width="0.45" text-anchor="middle">7 K</text>
<rect x="155.6" y="38" width="31.7" height="16" fill="#fff"/>
<text transform="translate(172.1,51.2) scale(1,1.02)" font-size="15" fill="#ff2020" stroke="#ff2020" stroke-width="0.45" text-anchor="middle">50 K</text>
<rect x="266.2" y="38" width="40" height="16" fill="#fff"/>
<text transform="translate(287,51.2) scale(1,1.02)" font-size="15" fill="#ff2020" stroke="#ff2020" stroke-width="0.45" text-anchor="middle">175 K</text>
<rect x="381.4" y="38" width="39.2" height="16" fill="#fff"/>
<text transform="translate(401.7,51.2) scale(1,1.02)" font-size="15" fill="#ff2020" stroke="#ff2020" stroke-width="0.45" text-anchor="middle">230 K</text>
<rect x="474.1" y="36.6" width="83.2" height="17.2" fill="#fff"/>
<text transform="translate(516.5,50.5) scale(1,1.02)" font-size="15" fill="#ff2020" stroke="#ff2020" stroke-width="0.45" text-anchor="middle">265 K (×0.5)</text>
<rect x="590.7" y="36.6" width="83.1" height="17.2" fill="#fff"/>
<text transform="translate(633,50.5) scale(1,1.02)" font-size="15" fill="#ff2020" stroke="#ff2020" stroke-width="0.45" text-anchor="middle">282 K (×0.5)</text>
<rect x="43.7" y="194.6" width="24" height="16.6" fill="#fff"/>
<text transform="translate(56.6,208.5) scale(1,1.0)" font-size="15" fill="#3355ff" stroke="#3355ff" stroke-width="0.45" text-anchor="middle">7 K</text>
<rect x="155.6" y="194.6" width="30.8" height="16.6" fill="#fff"/>
<text transform="translate(172.2,208.5) scale(1,1.0)" font-size="15" fill="#3355ff" stroke="#3355ff" stroke-width="0.45" text-anchor="middle">30 K</text>
<rect x="270.6" y="194.6" width="30.8" height="16.6" fill="#fff"/>
<text transform="translate(287,208.5) scale(1,1.0)" font-size="15" fill="#3355ff" stroke="#3355ff" stroke-width="0.45" text-anchor="middle">80 K</text>
<rect x="381.8" y="194.6" width="39.9" height="16.6" fill="#fff"/>
<text transform="translate(402.6,208.5) scale(1,1.0)" font-size="15" fill="#3355ff" stroke="#3355ff" stroke-width="0.45" text-anchor="middle">180 K</text>
<rect x="497.7" y="195.6" width="39.9" height="15" fill="#fff"/>
<text transform="translate(518.3,208.5) scale(1,1.0)" font-size="15" fill="#2222ff" stroke="#2222ff" stroke-width="0.45" text-anchor="middle">220 K</text>
<rect x="591" y="195.4" width="83.3" height="14.8" fill="#fff"/>
<text transform="translate(633.2,208.5) scale(1,1.0)" font-size="15" fill="#3355ff" stroke="#3355ff" stroke-width="0.45" text-anchor="middle">265 K (×0.5)</text>
<!-- legend -->
<g font-size="10.5" fill="#333" stroke-width="0.2">
<circle cx="462.5" cy="166.3" r="3.2" fill="none" stroke="#444" stroke-width="1"/>
<rect x="459.8" y="175.5" width="6.6" height="6.6" fill="none" stroke="#ff5aee" stroke-width="1.3"/>
<text x="476.8" y="169.9" stroke="#333">XX data</text>
<text x="476.8" y="182.2" stroke="#333">XY data</text>
<line x1="519" y1="166.4" x2="537.7" y2="166.4" stroke="#444" stroke-width="1"/>
<line x1="519" y1="178.6" x2="537.7" y2="178.6" stroke="#ff5aee" stroke-width="1.3"/>
<text x="542.6" y="169.9" stroke="#333">XX fit</text>
<text x="542.6" y="182.2" stroke="#333">XY fit</text>
</g>

</svg>
</body></html>
